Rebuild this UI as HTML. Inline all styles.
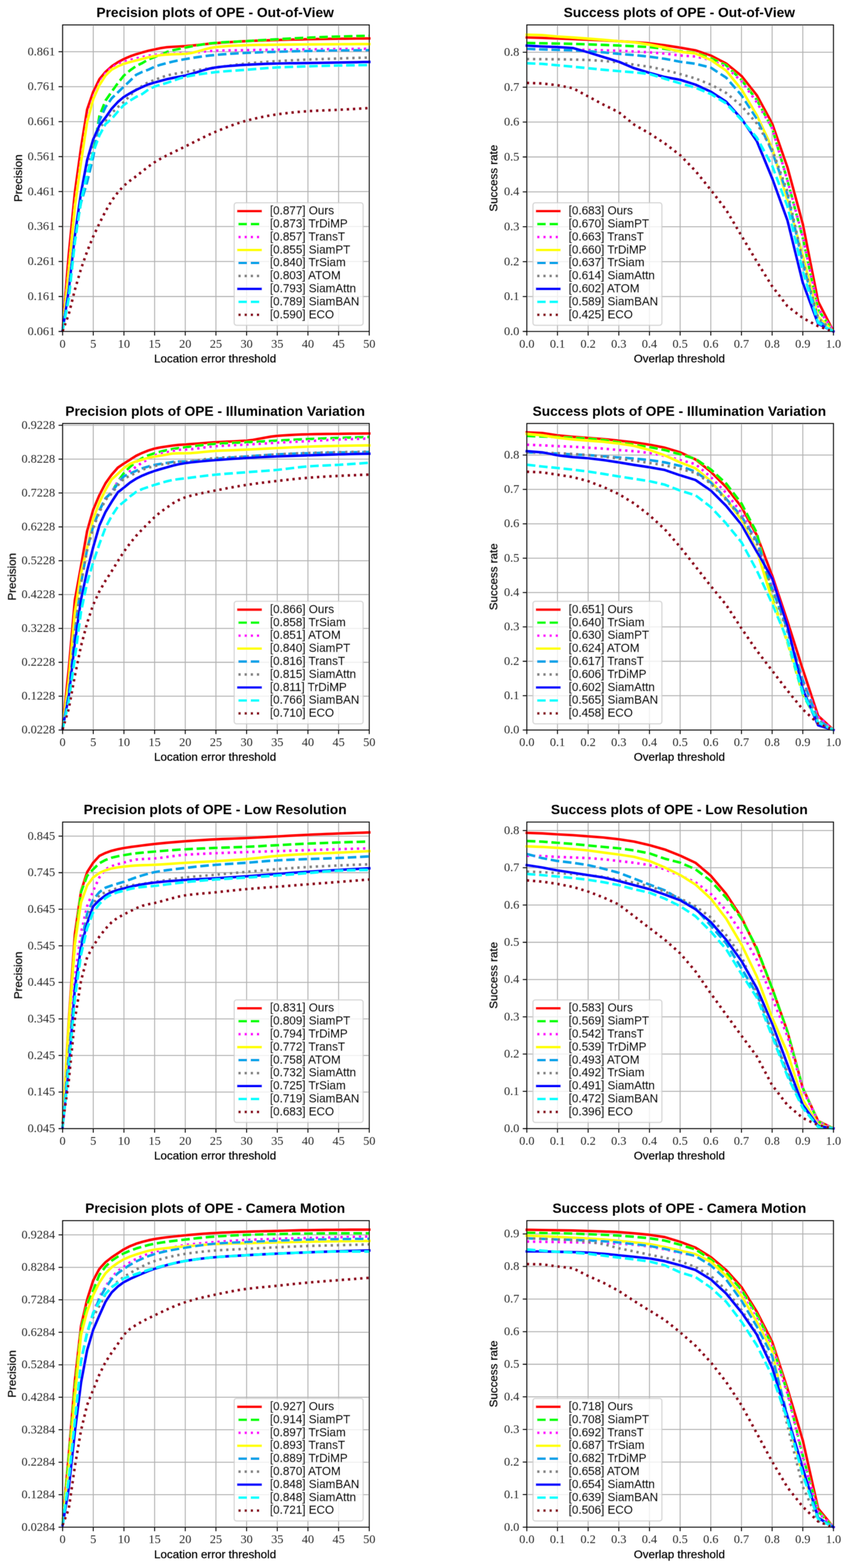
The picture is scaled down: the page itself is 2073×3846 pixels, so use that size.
<!DOCTYPE html>
<html><head><meta charset="utf-8"><title>OPE plots</title>
<style>html,body{margin:0;padding:0;background:#fff;}svg{display:block;}</style>
</head><body>
<svg width="2073" height="3846" viewBox="0 0 2073 3846"><defs><filter id="bl" x="-2%" y="-2%" width="104%" height="104%"><feConvolveMatrix order="3" kernelMatrix="1 2 1 2 4 2 1 2 1" divisor="16" edgeMode="none"/></filter></defs><rect width="100%" height="100%" fill="#fff"/><g filter="url(#bl)">
<path d="M153.6 61.1V813M228.83 61.1V813M304.06 61.1V813M379.29 61.1V813M454.52 61.1V813M529.75 61.1V813M604.98 61.1V813M680.21 61.1V813M755.44 61.1V813M830.67 61.1V813M905.9 61.1V813M153.6 813H905.9M153.6 727.24H905.9M153.6 641.48H905.9M153.6 555.72H905.9M153.6 469.96H905.9M153.6 384.2H905.9M153.6 298.44H905.9M153.6 212.68H905.9M153.6 126.92H905.9" stroke="#b0b0b0" stroke-width="2.28" fill="none"/>
<path d="M153.6,808.71 168.65,624.33 183.69,471.68 198.74,362.5 213.78,268.51 228.83,224.86 243.88,194.33 258.92,176.23 273.97,162.68 289.01,152.73 304.06,144.67 319.11,138.24 334.15,132.92 349.2,128.46 364.24,124.6 379.29,121.17 394.34,118 409.38,115.77 424.43,114.74 439.47,114.06 454.52,113.2 469.57,111.91 484.61,110.37 499.66,108.74 514.7,107.2 529.75,105.82 544.8,104.62 559.84,103.59 574.89,102.56 589.93,101.62 604.98,100.85 620.03,100.16 635.07,99.56 650.12,99.05 665.16,98.53 680.21,98.1 695.26,97.68 710.3,97.25 725.35,96.9 740.39,96.56 755.44,96.22 770.49,95.96 785.53,95.7 800.58,95.45 815.62,95.19 830.67,95.02 845.72,94.85 860.76,94.67 875.81,94.5 890.85,94.33 905.9,94.25" fill="none" stroke="#ff0000" stroke-width="6.2" stroke-linejoin="round" stroke-linecap="square"/>
<path d="M153.6,809.57 168.65,710.95 183.69,576.3 198.74,494.66 213.78,441.23 228.83,374.34 243.88,284.55 258.92,246.64 273.97,224.94 289.01,204.19 304.06,185.24 319.11,172.63 334.15,161.82 349.2,154.62 364.24,145.53 379.29,140.13 394.34,133.52 409.38,127.52 424.43,123.23 439.47,119.72 454.52,116.63 469.57,113.8 484.61,111.05 499.66,108.65 514.7,106.59 529.75,105.05 544.8,103.94 559.84,103.08 574.89,102.39 589.93,101.62 604.98,100.85 620.03,99.91 635.07,98.96 650.12,98.02 665.16,97.08 680.21,96.22 695.26,95.36 710.3,94.59 725.35,93.73 740.39,93.04 755.44,92.36 770.49,91.76 785.53,91.16 800.58,90.64 815.62,90.13 830.67,89.7 845.72,89.27 860.76,88.84 875.81,88.41 890.85,88.07 905.9,87.73" fill="none" stroke="#00ff00" stroke-width="6.2" stroke-linejoin="round" stroke-dasharray="21.09 9.12" stroke-linecap="butt"/>
<path d="M153.6,805.28 168.65,660.6 183.69,502.55 198.74,393.2 213.78,294.32 228.83,237.81 243.88,203.59 258.92,180.09 273.97,165.68 289.01,157.54 304.06,151.28 319.11,146.82 334.15,143.21 349.2,139.87 364.24,136.87 379.29,134.64 394.34,133.09 409.38,132.07 424.43,131.47 439.47,130.95 454.52,130.35 469.57,129.32 484.61,127.86 499.66,126.41 514.7,125.12 529.75,124.35 544.8,124 559.84,123.66 574.89,123.49 589.93,123.32 604.98,123.06 620.03,122.8 635.07,122.55 650.12,122.37 665.16,122.12 680.21,121.95 695.26,121.77 710.3,121.6 725.35,121.43 740.39,121.35 755.44,121.17 770.49,121 785.53,120.83 800.58,120.75 815.62,120.57 830.67,120.4 845.72,120.23 860.76,120.06 875.81,119.97 890.85,119.8 905.9,119.63" fill="none" stroke="#ff00ff" stroke-width="6.2" stroke-linejoin="round" stroke-dasharray="5.7 9.4" stroke-linecap="butt"/>
<path d="M153.6,810.43 168.65,665.75 183.69,507.69 198.74,398.35 213.78,299.47 228.83,242.95 243.88,208.74 258.92,185.24 273.97,170.83 289.01,162.68 304.06,156.42 319.11,152.05 334.15,148.27 349.2,144.24 364.24,140.47 379.29,137.47 394.34,135.24 409.38,133.78 424.43,133.18 439.47,132.75 454.52,132.07 469.57,130.01 484.61,126.23 499.66,121.86 514.7,117.92 529.75,115.43 544.8,114.06 559.84,112.94 574.89,112 589.93,111.31 604.98,110.8 620.03,110.45 635.07,110.2 650.12,110.03 665.16,109.85 680.21,109.68 695.26,109.51 710.3,109.34 725.35,109.17 740.39,109 755.44,108.91 770.49,108.82 785.53,108.74 800.58,108.65 815.62,108.57 830.67,108.48 845.72,108.4 860.76,108.31 875.81,108.22 890.85,108.22 905.9,108.14" fill="none" stroke="#ffff00" stroke-width="6.2" stroke-linejoin="round" stroke-linecap="square"/>
<path d="M153.6,809.57 168.65,710.95 183.69,576.22 198.74,496.97 213.78,446.46 228.83,384.8 243.88,295.35 258.92,262.85 273.97,241.24 289.01,226.74 304.06,212.34 319.11,197.93 334.15,183.44 349.2,176.23 364.24,170.83 379.29,163.63 394.34,158.65 409.38,154.62 424.43,150.93 439.47,147.76 454.52,144.93 469.57,142.44 484.61,140.13 499.66,137.98 514.7,136.18 529.75,134.64 544.8,133.35 559.84,132.24 574.89,131.29 589.93,130.44 604.98,129.66 620.03,128.98 635.07,128.38 650.12,127.86 665.16,127.35 680.21,126.92 695.26,126.49 710.3,126.06 725.35,125.72 740.39,125.38 755.44,125.03 770.49,124.78 785.53,124.52 800.58,124.26 815.62,124 830.67,123.83 845.72,123.66 860.76,123.49 875.81,123.32 890.85,123.15 905.9,123.06" fill="none" stroke="#00a2e8" stroke-width="6.2" stroke-linejoin="round" stroke-dasharray="21.09 9.12" stroke-linecap="butt"/>
<path d="M153.6,810.43 168.65,732.47 183.69,594.05 198.74,490.8 213.78,411.13 228.83,346.29 243.88,313.88 258.92,296.3 273.97,277.34 289.01,262.85 304.06,250.24 319.11,234.21 334.15,219.54 349.2,210.54 364.24,201.53 379.29,196.13 394.34,190.3 409.38,185.24 424.43,181.89 439.47,179.15 454.52,176.66 469.57,174.17 484.61,171.86 499.66,169.63 514.7,167.4 529.75,165.34 544.8,163.28 559.84,161.14 574.89,159.17 589.93,157.36 604.98,155.74 620.03,154.36 635.07,153.16 650.12,151.96 665.16,150.93 680.21,149.99 695.26,149.13 710.3,148.27 725.35,147.5 740.39,146.82 755.44,146.13 770.49,145.53 785.53,145.02 800.58,144.5 815.62,143.99 830.67,143.47 845.72,142.96 860.76,142.53 875.81,142.01 890.85,141.58 905.9,141.16" fill="none" stroke="#808080" stroke-width="6.2" stroke-linejoin="round" stroke-dasharray="5.7 9.4" stroke-linecap="butt"/>
<path d="M153.6,809.57 168.65,710.95 183.69,576.73 198.74,473.13 213.78,392.69 228.83,341.49 243.88,307.7 258.92,288.15 273.97,266.54 289.01,250.24 304.06,237.64 319.11,228.63 334.15,220.48 349.2,213.28 364.24,206.93 379.29,202.39 394.34,198.19 409.38,194.33 424.43,191.15 439.47,188.32 454.52,185.24 469.57,181.29 484.61,176.75 499.66,172.12 514.7,168.08 529.75,165.34 544.8,163.54 559.84,162 574.89,160.8 589.93,159.68 604.98,158.82 620.03,158.05 635.07,157.28 650.12,156.68 665.16,156.16 680.21,155.74 695.26,155.48 710.3,155.22 725.35,155.05 740.39,154.79 755.44,154.62 770.49,154.36 785.53,154.19 800.58,153.93 815.62,153.68 830.67,153.42 845.72,153.16 860.76,152.82 875.81,152.56 890.85,152.22 905.9,151.88" fill="none" stroke="#0000ff" stroke-width="6.2" stroke-linejoin="round" stroke-linecap="square"/>
<path d="M153.6,810.43 168.65,732.47 183.69,594.05 198.74,493.46 213.78,427.59 228.83,372.88 243.88,332.23 258.92,304.1 273.97,291.75 289.01,273.74 304.06,257.45 319.11,246.64 334.15,237.64 349.2,230.43 364.24,219.54 379.29,212.34 394.34,207.53 409.38,203.33 424.43,198.19 439.47,192.87 454.52,188.67 469.57,185.58 484.61,182.92 499.66,180.61 514.7,178.63 529.75,176.92 544.8,175.46 559.84,174.26 574.89,173.23 589.93,172.2 604.98,171.09 620.03,169.89 635.07,168.6 650.12,167.31 665.16,166.2 680.21,165.34 695.26,164.65 710.3,164.14 725.35,163.63 740.39,163.11 755.44,162.68 770.49,162.25 785.53,161.82 800.58,161.4 815.62,161.05 830.67,160.71 845.72,160.45 860.76,160.19 875.81,159.94 890.85,159.77 905.9,159.59" fill="none" stroke="#00ffff" stroke-width="6.2" stroke-linejoin="round" stroke-dasharray="21.09 9.12" stroke-linecap="butt"/>
<path d="M153.6,812.14 168.65,770.98 183.69,710.95 198.74,659.49 213.78,616.61 228.83,579.73 243.88,548 258.92,517.99 273.97,492.26 289.01,471.93 304.06,455.38 319.11,443.12 334.15,432.23 349.2,420.3 364.24,408.38 379.29,397.92 394.34,389.09 409.38,381.2 424.43,373.82 439.47,366.62 454.52,359.33 469.57,351.7 484.61,344.06 499.66,336.6 514.7,329.49 529.75,322.88 544.8,316.71 559.84,310.79 574.89,305.22 589.93,300.24 604.98,295.87 620.03,292.09 635.07,288.58 650.12,285.49 665.16,282.75 680.21,280.43 695.26,278.46 710.3,276.66 725.35,275.11 740.39,273.83 755.44,272.71 770.49,271.85 785.53,271.17 800.58,270.57 815.62,269.97 830.67,269.28 845.72,268.51 860.76,267.65 875.81,266.79 890.85,265.94 905.9,264.99" fill="none" stroke="#880015" stroke-width="6.2" stroke-linejoin="round" stroke-dasharray="5.7 9.4" stroke-linecap="butt"/>
<rect x="153.6" y="61.1" width="752.3" height="751.9" fill="none" stroke="#000" stroke-width="2.28"/>
<path d="M153.6 813v9.97M228.83 813v9.97M304.06 813v9.97M379.29 813v9.97M454.52 813v9.97M529.75 813v9.97M604.98 813v9.97M680.21 813v9.97M755.44 813v9.97M830.67 813v9.97M905.9 813v9.97M153.6 813h-9.97M153.6 727.24h-9.97M153.6 641.48h-9.97M153.6 555.72h-9.97M153.6 469.96h-9.97M153.6 384.2h-9.97M153.6 298.44h-9.97M153.6 212.68h-9.97M153.6 126.92h-9.97" stroke="#000" stroke-width="2.28" fill="none"/>
<g font-family="'Liberation Serif', 'Times New Roman', serif" font-size="30" fill="#2a2a2a">
<text x="153.6" y="852.5" text-anchor="middle">0</text>
<text x="228.83" y="852.5" text-anchor="middle">5</text>
<text x="304.06" y="852.5" text-anchor="middle">10</text>
<text x="379.29" y="852.5" text-anchor="middle">15</text>
<text x="454.52" y="852.5" text-anchor="middle">20</text>
<text x="529.75" y="852.5" text-anchor="middle">25</text>
<text x="604.98" y="852.5" text-anchor="middle">30</text>
<text x="680.21" y="852.5" text-anchor="middle">35</text>
<text x="755.44" y="852.5" text-anchor="middle">40</text>
<text x="830.67" y="852.5" text-anchor="middle">45</text>
<text x="905.9" y="852.5" text-anchor="middle">50</text>
<text x="135.3" y="821.7" text-anchor="end">0.061</text>
<text x="135.3" y="735.94" text-anchor="end">0.161</text>
<text x="135.3" y="650.18" text-anchor="end">0.261</text>
<text x="135.3" y="564.42" text-anchor="end">0.361</text>
<text x="135.3" y="478.66" text-anchor="end">0.461</text>
<text x="135.3" y="392.9" text-anchor="end">0.561</text>
<text x="135.3" y="307.14" text-anchor="end">0.661</text>
<text x="135.3" y="221.38" text-anchor="end">0.761</text>
<text x="135.3" y="135.62" text-anchor="end">0.861</text>
</g>
<g font-family="'Liberation Sans', Arial, Helvetica, sans-serif" font-size="28.35" fill="#000" stroke="#000" stroke-width="0.45">
<text x="527.75" y="888.8" text-anchor="middle">Location error threshold</text>
<text transform="translate(54.1 437.05) rotate(-90)" text-anchor="middle">Precision</text>
</g>
<text x="527.75" y="42.1" text-anchor="middle" font-family="'Liberation Sans', Arial, Helvetica, sans-serif" font-size="33.75" font-weight="bold">Precision plots of OPE - Out-of-View</text>
<rect x="574.53" y="497.3" width="316.27" height="300.5" rx="5.7" fill="#fff" fill-opacity="0.8" stroke="#ccc" stroke-opacity="0.8" stroke-width="2.85"/>
<path d="M584.83 517.8H639.33" fill="none" stroke="#ff0000" stroke-width="6.2" stroke-linecap="square"/>
<text x="662.13" y="526.1" font-family="'Liberation Sans', Arial, Helvetica, sans-serif" font-size="28.6" stroke="#000" stroke-width="0.45">[0.877] Ours</text>
<path d="M584.83 549.6H639.33" fill="none" stroke="#00ff00" stroke-width="6.2" stroke-dasharray="21.09 9.12" stroke-linecap="butt"/>
<text x="662.13" y="557.9" font-family="'Liberation Sans', Arial, Helvetica, sans-serif" font-size="28.6" stroke="#000" stroke-width="0.45">[0.873] TrDiMP</text>
<path d="M584.83 581.4H639.33" fill="none" stroke="#ff00ff" stroke-width="6.2" stroke-dasharray="5.7 9.4" stroke-linecap="butt"/>
<text x="662.13" y="589.7" font-family="'Liberation Sans', Arial, Helvetica, sans-serif" font-size="28.6" stroke="#000" stroke-width="0.45">[0.857] TransT</text>
<path d="M584.83 613.2H639.33" fill="none" stroke="#ffff00" stroke-width="6.2" stroke-linecap="square"/>
<text x="662.13" y="621.5" font-family="'Liberation Sans', Arial, Helvetica, sans-serif" font-size="28.6" stroke="#000" stroke-width="0.45">[0.855] SiamPT</text>
<path d="M584.83 645H639.33" fill="none" stroke="#00a2e8" stroke-width="6.2" stroke-dasharray="21.09 9.12" stroke-linecap="butt"/>
<text x="662.13" y="653.3" font-family="'Liberation Sans', Arial, Helvetica, sans-serif" font-size="28.6" stroke="#000" stroke-width="0.45">[0.840] TrSiam</text>
<path d="M584.83 676.8H639.33" fill="none" stroke="#808080" stroke-width="6.2" stroke-dasharray="5.7 9.4" stroke-linecap="butt"/>
<text x="662.13" y="685.1" font-family="'Liberation Sans', Arial, Helvetica, sans-serif" font-size="28.6" stroke="#000" stroke-width="0.45">[0.803] ATOM</text>
<path d="M584.83 708.6H639.33" fill="none" stroke="#0000ff" stroke-width="6.2" stroke-linecap="square"/>
<text x="662.13" y="716.9" font-family="'Liberation Sans', Arial, Helvetica, sans-serif" font-size="28.6" stroke="#000" stroke-width="0.45">[0.793] SiamAttn</text>
<path d="M584.83 740.4H639.33" fill="none" stroke="#00ffff" stroke-width="6.2" stroke-dasharray="21.09 9.12" stroke-linecap="butt"/>
<text x="662.13" y="748.7" font-family="'Liberation Sans', Arial, Helvetica, sans-serif" font-size="28.6" stroke="#000" stroke-width="0.45">[0.789] SiamBAN</text>
<path d="M584.83 772.2H639.33" fill="none" stroke="#880015" stroke-width="6.2" stroke-dasharray="5.7 9.4" stroke-linecap="butt"/>
<text x="662.13" y="780.5" font-family="'Liberation Sans', Arial, Helvetica, sans-serif" font-size="28.6" stroke="#000" stroke-width="0.45">[0.590] ECO</text>
</g>
<g filter="url(#bl)">
<path d="M1292.4 61.1V813M1367.63 61.1V813M1442.86 61.1V813M1518.09 61.1V813M1593.32 61.1V813M1668.55 61.1V813M1743.78 61.1V813M1819.01 61.1V813M1894.24 61.1V813M1969.47 61.1V813M2044.7 61.1V813M1292.4 813H2044.7M1292.4 727.4H2044.7M1292.4 641.8H2044.7M1292.4 556.2H2044.7M1292.4 470.6H2044.7M1292.4 385H2044.7M1292.4 299.4H2044.7M1292.4 213.8H2044.7M1292.4 128.2H2044.7" stroke="#b0b0b0" stroke-width="2.28" fill="none"/>
<path d="M1292.4,91.82 1330.02,92.93 1367.63,94.39 1405.25,95.84 1442.86,97.3 1480.48,99.01 1518.09,100.98 1555.7,103.29 1593.32,106.2 1630.93,111.08 1668.55,116.9 1706.16,123.49 1743.78,136.16 1781.39,155.76 1819.01,186.07 1856.62,233.57 1894.24,302.74 1931.86,410.68 1969.47,549.35 2007.09,739.56 2044.7,813" fill="none" stroke="#ff0000" stroke-width="6.2" stroke-linejoin="round" stroke-linecap="square"/>
<path d="M1292.4,105.34 1330.02,106.2 1367.63,106.8 1405.25,107.66 1442.86,108.77 1480.48,110.22 1518.09,111.68 1555.7,113.39 1593.32,115.45 1630.93,119.73 1668.55,125.55 1706.16,129.83 1743.78,142.84 1781.39,160.13 1819.01,196.08 1856.62,245.13 1894.24,314.29 1931.86,442.69 1969.47,583.93 2007.09,759.76 2044.7,813" fill="none" stroke="#00ff00" stroke-width="6.2" stroke-linejoin="round" stroke-dasharray="21.09 9.12" stroke-linecap="butt"/>
<path d="M1292.4,120.32 1330.02,120.92 1367.63,121.44 1405.25,121.78 1442.86,122.64 1480.48,123.49 1518.09,124.6 1555.7,126.4 1593.32,128.37 1630.93,131.28 1668.55,136.16 1706.16,138.47 1743.78,147.12 1781.39,164.41 1819.01,198.99 1856.62,250.86 1894.24,314.29 1931.86,442.69 1969.47,581.11 2007.09,756.85 2044.7,813" fill="none" stroke="#ff00ff" stroke-width="6.2" stroke-linejoin="round" stroke-dasharray="5.7 9.4" stroke-linecap="butt"/>
<path d="M1292.4,85.14 1330.02,86 1367.63,89.51 1405.25,91.82 1442.86,94.64 1480.48,97.56 1518.09,100.98 1555.7,103.89 1593.32,109.62 1630.93,116.9 1668.55,126.92 1706.16,131.28 1743.78,147.12 1781.39,173.05 1819.01,219.19 1856.62,282.62 1894.24,363.26 1931.86,491.74 1969.47,627.16 2007.09,777.05 2044.7,813" fill="none" stroke="#ffff00" stroke-width="6.2" stroke-linejoin="round" stroke-linecap="square"/>
<path d="M1292.4,119.73 1330.02,121.18 1367.63,122.38 1405.25,123.49 1442.86,125.55 1480.48,128.37 1518.09,132.14 1555.7,135.05 1593.32,139.07 1630.93,144.21 1668.55,151.48 1706.16,156.45 1743.78,165.86 1781.39,190.35 1819.01,233.57 1856.62,291.27 1894.24,371.9 1931.86,477.28 1969.47,644.45 2007.09,785.69 2044.7,813" fill="none" stroke="#00a2e8" stroke-width="6.2" stroke-linejoin="round" stroke-dasharray="21.09 9.12" stroke-linecap="butt"/>
<path d="M1292.4,144.81 1330.02,145.15 1367.63,145.41 1405.25,146 1442.86,147.12 1480.48,149.43 1518.09,152.85 1555.7,158.67 1593.32,163.81 1630.93,171.6 1668.55,181.7 1706.16,192.4 1743.78,207.47 1781.39,227.84 1819.01,259.51 1856.62,302.74 1894.24,366.17 1931.86,470.09 1969.47,638.72 2007.09,779.96 2044.7,813" fill="none" stroke="#808080" stroke-width="6.2" stroke-linejoin="round" stroke-dasharray="5.7 9.4" stroke-linecap="butt"/>
<path d="M1292.4,111.94 1330.02,113.99 1367.63,115.45 1405.25,117.76 1442.86,128.37 1480.48,139.93 1518.09,151.48 1555.7,167.32 1593.32,178.79 1630.93,188.89 1668.55,195.82 1706.16,207.64 1743.78,224.93 1781.39,249.41 1819.01,291.27 1856.62,345.97 1894.24,436.96 1931.86,540.71 1969.47,693.5 2007.09,794.34 2044.7,813" fill="none" stroke="#0000ff" stroke-width="6.2" stroke-linejoin="round" stroke-linecap="square"/>
<path d="M1292.4,155.16 1330.02,156.62 1367.63,160.13 1405.25,163.55 1442.86,167.32 1480.48,171.09 1518.09,174.51 1555.7,177.42 1593.32,181.7 1630.93,193.26 1668.55,204.38 1706.16,215.08 1743.78,230.75 1781.39,253.78 1819.01,294.09 1856.62,337.32 1894.24,406.49 1931.86,506.12 1969.47,664.66 2007.09,791.43 2044.7,813" fill="none" stroke="#00ffff" stroke-width="6.2" stroke-linejoin="round" stroke-dasharray="21.09 9.12" stroke-linecap="butt"/>
<path d="M1292.4,203.36 1330.02,204.73 1367.63,209.09 1405.25,216.28 1442.86,236.48 1480.48,256.69 1518.09,275.35 1555.7,305.65 1593.32,327.22 1630.93,351.79 1668.55,380.55 1706.16,419.24 1743.78,465.81 1781.39,514.77 1819.01,578.2 1856.62,641.63 1894.24,702.15 1931.86,751.11 1969.47,779.96 2007.09,800.07 2044.7,813" fill="none" stroke="#880015" stroke-width="6.2" stroke-linejoin="round" stroke-dasharray="5.7 9.4" stroke-linecap="butt"/>
<rect x="1292.4" y="61.1" width="752.3" height="751.9" fill="none" stroke="#000" stroke-width="2.28"/>
<path d="M1292.4 813v9.97M1367.63 813v9.97M1442.86 813v9.97M1518.09 813v9.97M1593.32 813v9.97M1668.55 813v9.97M1743.78 813v9.97M1819.01 813v9.97M1894.24 813v9.97M1969.47 813v9.97M2044.7 813v9.97M1292.4 813h-9.97M1292.4 727.4h-9.97M1292.4 641.8h-9.97M1292.4 556.2h-9.97M1292.4 470.6h-9.97M1292.4 385h-9.97M1292.4 299.4h-9.97M1292.4 213.8h-9.97M1292.4 128.2h-9.97" stroke="#000" stroke-width="2.28" fill="none"/>
<g font-family="'Liberation Serif', 'Times New Roman', serif" font-size="30" fill="#2a2a2a">
<text x="1292.4" y="852.5" text-anchor="middle">0.0</text>
<text x="1367.63" y="852.5" text-anchor="middle">0.1</text>
<text x="1442.86" y="852.5" text-anchor="middle">0.2</text>
<text x="1518.09" y="852.5" text-anchor="middle">0.3</text>
<text x="1593.32" y="852.5" text-anchor="middle">0.4</text>
<text x="1668.55" y="852.5" text-anchor="middle">0.5</text>
<text x="1743.78" y="852.5" text-anchor="middle">0.6</text>
<text x="1819.01" y="852.5" text-anchor="middle">0.7</text>
<text x="1894.24" y="852.5" text-anchor="middle">0.8</text>
<text x="1969.47" y="852.5" text-anchor="middle">0.9</text>
<text x="2044.7" y="852.5" text-anchor="middle">1.0</text>
<text x="1274.1" y="821.7" text-anchor="end">0.0</text>
<text x="1274.1" y="736.1" text-anchor="end">0.1</text>
<text x="1274.1" y="650.5" text-anchor="end">0.2</text>
<text x="1274.1" y="564.9" text-anchor="end">0.3</text>
<text x="1274.1" y="479.3" text-anchor="end">0.4</text>
<text x="1274.1" y="393.7" text-anchor="end">0.5</text>
<text x="1274.1" y="308.1" text-anchor="end">0.6</text>
<text x="1274.1" y="222.5" text-anchor="end">0.7</text>
<text x="1274.1" y="136.9" text-anchor="end">0.8</text>
</g>
<g font-family="'Liberation Sans', Arial, Helvetica, sans-serif" font-size="28.35" fill="#000" stroke="#000" stroke-width="0.45">
<text x="1666.55" y="888.8" text-anchor="middle">Overlap threshold</text>
<text transform="translate(1220.1 437.05) rotate(-90)" text-anchor="middle">Success rate</text>
</g>
<text x="1666.55" y="42.1" text-anchor="middle" font-family="'Liberation Sans', Arial, Helvetica, sans-serif" font-size="33.75" font-weight="bold">Success plots of OPE - Out-of-View</text>
<rect x="1307.5" y="497.3" width="316.27" height="300.5" rx="5.7" fill="#fff" fill-opacity="0.8" stroke="#ccc" stroke-opacity="0.8" stroke-width="2.85"/>
<path d="M1317.8 517.8H1372.3" fill="none" stroke="#ff0000" stroke-width="6.2" stroke-linecap="square"/>
<text x="1395.1" y="526.1" font-family="'Liberation Sans', Arial, Helvetica, sans-serif" font-size="28.6" stroke="#000" stroke-width="0.45">[0.683] Ours</text>
<path d="M1317.8 549.6H1372.3" fill="none" stroke="#00ff00" stroke-width="6.2" stroke-dasharray="21.09 9.12" stroke-linecap="butt"/>
<text x="1395.1" y="557.9" font-family="'Liberation Sans', Arial, Helvetica, sans-serif" font-size="28.6" stroke="#000" stroke-width="0.45">[0.670] SiamPT</text>
<path d="M1317.8 581.4H1372.3" fill="none" stroke="#ff00ff" stroke-width="6.2" stroke-dasharray="5.7 9.4" stroke-linecap="butt"/>
<text x="1395.1" y="589.7" font-family="'Liberation Sans', Arial, Helvetica, sans-serif" font-size="28.6" stroke="#000" stroke-width="0.45">[0.663] TransT</text>
<path d="M1317.8 613.2H1372.3" fill="none" stroke="#ffff00" stroke-width="6.2" stroke-linecap="square"/>
<text x="1395.1" y="621.5" font-family="'Liberation Sans', Arial, Helvetica, sans-serif" font-size="28.6" stroke="#000" stroke-width="0.45">[0.660] TrDiMP</text>
<path d="M1317.8 645H1372.3" fill="none" stroke="#00a2e8" stroke-width="6.2" stroke-dasharray="21.09 9.12" stroke-linecap="butt"/>
<text x="1395.1" y="653.3" font-family="'Liberation Sans', Arial, Helvetica, sans-serif" font-size="28.6" stroke="#000" stroke-width="0.45">[0.637] TrSiam</text>
<path d="M1317.8 676.8H1372.3" fill="none" stroke="#808080" stroke-width="6.2" stroke-dasharray="5.7 9.4" stroke-linecap="butt"/>
<text x="1395.1" y="685.1" font-family="'Liberation Sans', Arial, Helvetica, sans-serif" font-size="28.6" stroke="#000" stroke-width="0.45">[0.614] SiamAttn</text>
<path d="M1317.8 708.6H1372.3" fill="none" stroke="#0000ff" stroke-width="6.2" stroke-linecap="square"/>
<text x="1395.1" y="716.9" font-family="'Liberation Sans', Arial, Helvetica, sans-serif" font-size="28.6" stroke="#000" stroke-width="0.45">[0.602] ATOM</text>
<path d="M1317.8 740.4H1372.3" fill="none" stroke="#00ffff" stroke-width="6.2" stroke-dasharray="21.09 9.12" stroke-linecap="butt"/>
<text x="1395.1" y="748.7" font-family="'Liberation Sans', Arial, Helvetica, sans-serif" font-size="28.6" stroke="#000" stroke-width="0.45">[0.589] SiamBAN</text>
<path d="M1317.8 772.2H1372.3" fill="none" stroke="#880015" stroke-width="6.2" stroke-dasharray="5.7 9.4" stroke-linecap="butt"/>
<text x="1395.1" y="780.5" font-family="'Liberation Sans', Arial, Helvetica, sans-serif" font-size="28.6" stroke="#000" stroke-width="0.45">[0.425] ECO</text>
</g>
<g filter="url(#bl)">
<path d="M153.6 1038.73V1790.63M228.83 1038.73V1790.63M304.06 1038.73V1790.63M379.29 1038.73V1790.63M454.52 1038.73V1790.63M529.75 1038.73V1790.63M604.98 1038.73V1790.63M680.21 1038.73V1790.63M755.44 1038.73V1790.63M830.67 1038.73V1790.63M905.9 1038.73V1790.63M153.6 1790.63H905.9M153.6 1707.57H905.9M153.6 1624.51H905.9M153.6 1541.45H905.9M153.6 1458.39H905.9M153.6 1375.33H905.9M153.6 1292.27H905.9M153.6 1209.21H905.9M153.6 1126.15H905.9M153.6 1043.09H905.9" stroke="#b0b0b0" stroke-width="2.28" fill="none"/>
<path d="M153.6,1784.65 168.65,1641.12 183.69,1471.6 198.74,1388.2 213.78,1302.32 228.83,1249.74 243.88,1214.44 258.92,1185.37 273.97,1164.19 289.01,1147.08 304.06,1136.86 319.11,1127.48 334.15,1117.84 349.2,1110.78 364.24,1104.89 379.29,1100.24 394.34,1097.25 409.38,1095 424.43,1092.76 439.47,1091.18 454.52,1090.27 469.57,1089.19 484.61,1088.03 499.66,1086.78 514.7,1085.62 529.75,1084.62 544.8,1083.79 559.84,1083.12 574.89,1082.54 589.93,1081.71 604.98,1080.72 620.03,1078.97 635.07,1076.4 650.12,1073.49 665.16,1070.92 680.21,1069.09 695.26,1068.01 710.3,1067.09 725.35,1066.26 740.39,1065.68 755.44,1065.27 770.49,1064.93 785.53,1064.69 800.58,1064.44 815.62,1064.27 830.67,1064.1 845.72,1063.86 860.76,1063.69 875.81,1063.52 890.85,1063.44 905.9,1063.27" fill="none" stroke="#ff0000" stroke-width="6.2" stroke-linejoin="round" stroke-linecap="square"/>
<path d="M153.6,1786.31 168.65,1700.59 183.69,1548.18 198.74,1430.65 213.78,1345.43 228.83,1290.28 243.88,1251.65 258.92,1222.33 273.97,1207.3 289.01,1181.05 304.06,1160.45 319.11,1144.84 334.15,1132.79 349.2,1123.66 364.24,1116.85 379.29,1111.78 394.34,1107.71 409.38,1104.14 424.43,1101.15 439.47,1098.91 454.52,1096.91 469.57,1095 484.61,1093.09 499.66,1091.35 514.7,1089.77 529.75,1088.52 544.8,1087.53 559.84,1086.78 574.89,1086.03 589.93,1085.37 604.98,1084.62 620.03,1083.87 635.07,1083.04 650.12,1082.29 665.16,1081.55 680.21,1080.72 695.26,1079.97 710.3,1079.14 725.35,1078.31 740.39,1077.56 755.44,1076.9 770.49,1076.23 785.53,1075.73 800.58,1075.15 815.62,1074.65 830.67,1074.15 845.72,1073.66 860.76,1073.16 875.81,1072.74 890.85,1072.24 905.9,1071.83" fill="none" stroke="#00ff00" stroke-width="6.2" stroke-linejoin="round" stroke-dasharray="21.09 9.12" stroke-linecap="butt"/>
<path d="M153.6,1786.31 168.65,1700.59 183.69,1548.18 198.74,1430.65 213.78,1345.43 228.83,1290.28 243.88,1251.65 258.92,1222.33 273.97,1207.22 289.01,1181.14 304.06,1169.51 319.11,1155.14 334.15,1144.67 349.2,1134.46 364.24,1125.65 379.29,1116.85 394.34,1112.36 409.38,1109.21 424.43,1105.88 439.47,1103.23 454.52,1102.73 469.57,1101.65 484.61,1099.82 499.66,1097.74 514.7,1095.75 529.75,1094.34 544.8,1093.34 559.84,1092.59 574.89,1091.93 589.93,1091.18 604.98,1090.43 620.03,1089.52 635.07,1088.61 650.12,1087.61 665.16,1086.7 680.21,1085.78 695.26,1084.95 710.3,1084.2 725.35,1083.46 740.39,1082.71 755.44,1081.88 770.49,1081.13 785.53,1080.3 800.58,1079.47 815.62,1078.72 830.67,1078.06 845.72,1077.48 860.76,1076.98 875.81,1076.48 890.85,1076.06 905.9,1075.73" fill="none" stroke="#ff00ff" stroke-width="6.2" stroke-linejoin="round" stroke-dasharray="5.7 9.4" stroke-linecap="butt"/>
<path d="M153.6,1784.65 168.65,1671.44 183.69,1503.57 198.74,1406.98 213.78,1343.19 228.83,1272.83 243.88,1232.05 258.92,1201.32 273.97,1175.9 289.01,1162.36 304.06,1147.91 319.11,1137.61 334.15,1131.72 349.2,1127.4 364.24,1122.91 379.29,1119.84 394.34,1117.51 409.38,1114.85 424.43,1112.28 439.47,1111.95 454.52,1111.86 469.57,1111.28 484.61,1110.04 499.66,1108.54 514.7,1107.05 529.75,1105.97 544.8,1105.22 559.84,1104.64 574.89,1104.06 589.93,1103.47 604.98,1102.89 620.03,1102.15 635.07,1101.32 650.12,1100.57 665.16,1099.74 680.21,1098.99 695.26,1098.24 710.3,1097.49 725.35,1096.75 740.39,1096.08 755.44,1095.5 770.49,1095 785.53,1094.59 800.58,1094.17 815.62,1093.84 830.67,1093.51 845.72,1093.26 860.76,1093.01 875.81,1092.76 890.85,1092.59 905.9,1092.34" fill="none" stroke="#ffff00" stroke-width="6.2" stroke-linejoin="round" stroke-linecap="square"/>
<path d="M153.6,1786.31 168.65,1700.59 183.69,1548.18 198.74,1430.65 213.78,1345.43 228.83,1290.28 243.88,1251.65 258.92,1222.33 273.97,1207.63 289.01,1186.37 304.06,1168.26 319.11,1161.53 334.15,1154.72 349.2,1148.83 364.24,1144.09 379.29,1140.35 394.34,1137.7 409.38,1135.45 424.43,1132.96 439.47,1131.88 454.52,1131.8 469.57,1131.22 484.61,1130.05 499.66,1128.48 514.7,1126.81 529.75,1125.32 544.8,1124.16 559.84,1122.91 574.89,1121.75 589.93,1120.67 604.98,1119.51 620.03,1118.43 635.07,1117.35 650.12,1116.27 665.16,1115.27 680.21,1114.52 695.26,1113.86 710.3,1113.28 725.35,1112.69 740.39,1112.2 755.44,1111.78 770.49,1111.37 785.53,1110.87 800.58,1110.53 815.62,1110.12 830.67,1109.87 845.72,1109.54 860.76,1109.29 875.81,1109.04 890.85,1108.87 905.9,1108.71" fill="none" stroke="#00a2e8" stroke-width="6.2" stroke-linejoin="round" stroke-dasharray="21.09 9.12" stroke-linecap="butt"/>
<path d="M153.6,1786.31 168.65,1700.59 183.69,1548.18 198.74,1430.65 213.78,1349.5 228.83,1294.6 243.88,1256.31 258.92,1226.07 273.97,1210.62 289.01,1190.77 304.06,1173.74 319.11,1167.02 334.15,1159.21 349.2,1152.31 364.24,1147.08 379.29,1143.01 394.34,1139.85 409.38,1137.28 424.43,1134.95 439.47,1133.46 454.52,1132.63 469.57,1131.13 484.61,1129.14 499.66,1126.9 514.7,1124.9 529.75,1123.41 544.8,1122.41 559.84,1121.66 574.89,1121 589.93,1120.34 604.98,1119.51 620.03,1118.59 635.07,1117.51 650.12,1116.43 665.16,1115.44 680.21,1114.52 695.26,1113.69 710.3,1112.94 725.35,1112.2 740.39,1111.53 755.44,1111.03 770.49,1110.53 785.53,1110.12 800.58,1109.7 815.62,1109.37 830.67,1109.04 845.72,1108.79 860.76,1108.54 875.81,1108.29 890.85,1108.04 905.9,1107.88" fill="none" stroke="#808080" stroke-width="6.2" stroke-linejoin="round" stroke-dasharray="5.7 9.4" stroke-linecap="butt"/>
<path d="M153.6,1786.31 168.65,1707.15 183.69,1575.59 198.74,1470.68 213.78,1400.16 228.83,1341.36 243.88,1288.78 258.92,1255.56 273.97,1230.81 289.01,1207.71 304.06,1195.92 319.11,1183.63 334.15,1174.08 349.2,1166.52 364.24,1160.37 379.29,1155.05 394.34,1150.49 409.38,1146.25 424.43,1142.01 439.47,1138.44 454.52,1135.95 469.57,1134.04 484.61,1132.46 499.66,1130.97 514.7,1129.72 529.75,1128.48 544.8,1127.31 559.84,1126.23 574.89,1125.24 589.93,1124.32 604.98,1123.41 620.03,1122.58 635.07,1121.75 650.12,1120.92 665.16,1120.17 680.21,1119.51 695.26,1118.92 710.3,1118.34 725.35,1117.84 740.39,1117.35 755.44,1116.85 770.49,1116.35 785.53,1115.85 800.58,1115.35 815.62,1114.85 830.67,1114.52 845.72,1114.11 860.76,1113.77 875.81,1113.44 890.85,1113.19 905.9,1112.94" fill="none" stroke="#0000ff" stroke-width="6.2" stroke-linejoin="round" stroke-linecap="square"/>
<path d="M153.6,1787.97 168.65,1720.11 183.69,1614.21 198.74,1500.75 213.78,1429.4 228.83,1378.74 243.88,1334.22 258.92,1293.93 273.97,1265.61 289.01,1242.93 304.06,1230.64 319.11,1217.6 334.15,1206.55 349.2,1199.41 364.24,1194.26 379.29,1189.28 394.34,1184.71 409.38,1180.47 424.43,1176.98 439.47,1174.99 454.52,1173.33 469.57,1171.42 484.61,1169.42 499.66,1167.51 514.7,1165.69 529.75,1164.11 544.8,1162.78 559.84,1161.62 574.89,1160.54 589.93,1159.46 604.98,1158.29 620.03,1157.21 635.07,1156.13 650.12,1154.97 665.16,1153.81 680.21,1152.48 695.26,1150.9 710.3,1148.99 725.35,1147.08 740.39,1145.34 755.44,1144.01 770.49,1143.01 785.53,1142.26 800.58,1141.6 815.62,1140.85 830.67,1140.1 845.72,1139.19 860.76,1138.19 875.81,1137.2 890.85,1136.12 905.9,1135.04" fill="none" stroke="#00ffff" stroke-width="6.2" stroke-linejoin="round" stroke-dasharray="21.09 9.12" stroke-linecap="butt"/>
<path d="M153.6,1788.8 168.65,1738.55 183.69,1657.24 198.74,1584.56 213.78,1527.83 228.83,1482.64 243.88,1450.42 258.92,1424.09 273.97,1401.16 289.01,1376.58 304.06,1352.9 319.11,1332.39 334.15,1314.2 349.2,1298 364.24,1282.97 379.29,1268.35 394.34,1255.47 409.38,1245.09 424.43,1234.38 439.47,1226.07 454.52,1219.84 469.57,1215.44 484.61,1211.87 499.66,1208.71 514.7,1205.8 529.75,1202.9 544.8,1199.99 559.84,1197.08 574.89,1194.34 589.93,1191.77 604.98,1189.36 620.03,1187.2 635.07,1185.12 650.12,1183.21 665.16,1181.38 680.21,1179.64 695.26,1177.9 710.3,1176.24 725.35,1174.66 740.39,1173.16 755.44,1171.92 770.49,1170.75 785.53,1169.76 800.58,1168.84 815.62,1168.01 830.67,1167.26 845.72,1166.52 860.76,1165.85 875.81,1165.19 890.85,1164.61 905.9,1164.11" fill="none" stroke="#880015" stroke-width="6.2" stroke-linejoin="round" stroke-dasharray="5.7 9.4" stroke-linecap="butt"/>
<rect x="153.6" y="1038.73" width="752.3" height="751.9" fill="none" stroke="#000" stroke-width="2.28"/>
<path d="M153.6 1790.63v9.97M228.83 1790.63v9.97M304.06 1790.63v9.97M379.29 1790.63v9.97M454.52 1790.63v9.97M529.75 1790.63v9.97M604.98 1790.63v9.97M680.21 1790.63v9.97M755.44 1790.63v9.97M830.67 1790.63v9.97M905.9 1790.63v9.97M153.6 1790.63h-9.97M153.6 1707.57h-9.97M153.6 1624.51h-9.97M153.6 1541.45h-9.97M153.6 1458.39h-9.97M153.6 1375.33h-9.97M153.6 1292.27h-9.97M153.6 1209.21h-9.97M153.6 1126.15h-9.97M153.6 1043.09h-9.97" stroke="#000" stroke-width="2.28" fill="none"/>
<g font-family="'Liberation Serif', 'Times New Roman', serif" font-size="30" fill="#2a2a2a">
<text x="153.6" y="1830.13" text-anchor="middle">0</text>
<text x="228.83" y="1830.13" text-anchor="middle">5</text>
<text x="304.06" y="1830.13" text-anchor="middle">10</text>
<text x="379.29" y="1830.13" text-anchor="middle">15</text>
<text x="454.52" y="1830.13" text-anchor="middle">20</text>
<text x="529.75" y="1830.13" text-anchor="middle">25</text>
<text x="604.98" y="1830.13" text-anchor="middle">30</text>
<text x="680.21" y="1830.13" text-anchor="middle">35</text>
<text x="755.44" y="1830.13" text-anchor="middle">40</text>
<text x="830.67" y="1830.13" text-anchor="middle">45</text>
<text x="905.9" y="1830.13" text-anchor="middle">50</text>
<text x="135.3" y="1799.33" text-anchor="end">0.0228</text>
<text x="135.3" y="1716.27" text-anchor="end">0.1228</text>
<text x="135.3" y="1633.21" text-anchor="end">0.2228</text>
<text x="135.3" y="1550.15" text-anchor="end">0.3228</text>
<text x="135.3" y="1467.09" text-anchor="end">0.4228</text>
<text x="135.3" y="1384.03" text-anchor="end">0.5228</text>
<text x="135.3" y="1300.97" text-anchor="end">0.6228</text>
<text x="135.3" y="1217.91" text-anchor="end">0.7228</text>
<text x="135.3" y="1134.85" text-anchor="end">0.8228</text>
<text x="135.3" y="1051.79" text-anchor="end">0.9228</text>
</g>
<g font-family="'Liberation Sans', Arial, Helvetica, sans-serif" font-size="28.35" fill="#000" stroke="#000" stroke-width="0.45">
<text x="527.75" y="1866.43" text-anchor="middle">Location error threshold</text>
<text transform="translate(38.8 1414.68) rotate(-90)" text-anchor="middle">Precision</text>
</g>
<text x="527.75" y="1019.73" text-anchor="middle" font-family="'Liberation Sans', Arial, Helvetica, sans-serif" font-size="33.75" font-weight="bold">Precision plots of OPE - Illumination Variation</text>
<rect x="574.53" y="1474.93" width="316.27" height="300.5" rx="5.7" fill="#fff" fill-opacity="0.8" stroke="#ccc" stroke-opacity="0.8" stroke-width="2.85"/>
<path d="M584.83 1495.43H639.33" fill="none" stroke="#ff0000" stroke-width="6.2" stroke-linecap="square"/>
<text x="662.13" y="1503.73" font-family="'Liberation Sans', Arial, Helvetica, sans-serif" font-size="28.6" stroke="#000" stroke-width="0.45">[0.866] Ours</text>
<path d="M584.83 1527.23H639.33" fill="none" stroke="#00ff00" stroke-width="6.2" stroke-dasharray="21.09 9.12" stroke-linecap="butt"/>
<text x="662.13" y="1535.53" font-family="'Liberation Sans', Arial, Helvetica, sans-serif" font-size="28.6" stroke="#000" stroke-width="0.45">[0.858] TrSiam</text>
<path d="M584.83 1559.03H639.33" fill="none" stroke="#ff00ff" stroke-width="6.2" stroke-dasharray="5.7 9.4" stroke-linecap="butt"/>
<text x="662.13" y="1567.33" font-family="'Liberation Sans', Arial, Helvetica, sans-serif" font-size="28.6" stroke="#000" stroke-width="0.45">[0.851] ATOM</text>
<path d="M584.83 1590.83H639.33" fill="none" stroke="#ffff00" stroke-width="6.2" stroke-linecap="square"/>
<text x="662.13" y="1599.13" font-family="'Liberation Sans', Arial, Helvetica, sans-serif" font-size="28.6" stroke="#000" stroke-width="0.45">[0.840] SiamPT</text>
<path d="M584.83 1622.63H639.33" fill="none" stroke="#00a2e8" stroke-width="6.2" stroke-dasharray="21.09 9.12" stroke-linecap="butt"/>
<text x="662.13" y="1630.93" font-family="'Liberation Sans', Arial, Helvetica, sans-serif" font-size="28.6" stroke="#000" stroke-width="0.45">[0.816] TransT</text>
<path d="M584.83 1654.43H639.33" fill="none" stroke="#808080" stroke-width="6.2" stroke-dasharray="5.7 9.4" stroke-linecap="butt"/>
<text x="662.13" y="1662.73" font-family="'Liberation Sans', Arial, Helvetica, sans-serif" font-size="28.6" stroke="#000" stroke-width="0.45">[0.815] SiamAttn</text>
<path d="M584.83 1686.23H639.33" fill="none" stroke="#0000ff" stroke-width="6.2" stroke-linecap="square"/>
<text x="662.13" y="1694.53" font-family="'Liberation Sans', Arial, Helvetica, sans-serif" font-size="28.6" stroke="#000" stroke-width="0.45">[0.811] TrDiMP</text>
<path d="M584.83 1718.03H639.33" fill="none" stroke="#00ffff" stroke-width="6.2" stroke-dasharray="21.09 9.12" stroke-linecap="butt"/>
<text x="662.13" y="1726.33" font-family="'Liberation Sans', Arial, Helvetica, sans-serif" font-size="28.6" stroke="#000" stroke-width="0.45">[0.766] SiamBAN</text>
<path d="M584.83 1749.83H639.33" fill="none" stroke="#880015" stroke-width="6.2" stroke-dasharray="5.7 9.4" stroke-linecap="butt"/>
<text x="662.13" y="1758.13" font-family="'Liberation Sans', Arial, Helvetica, sans-serif" font-size="28.6" stroke="#000" stroke-width="0.45">[0.710] ECO</text>
</g>
<g filter="url(#bl)">
<path d="M1292.4 1038.73V1790.63M1367.63 1038.73V1790.63M1442.86 1038.73V1790.63M1518.09 1038.73V1790.63M1593.32 1038.73V1790.63M1668.55 1038.73V1790.63M1743.78 1038.73V1790.63M1819.01 1038.73V1790.63M1894.24 1038.73V1790.63M1969.47 1038.73V1790.63M2044.7 1038.73V1790.63M1292.4 1790.63H2044.7M1292.4 1706.32H2044.7M1292.4 1622.01H2044.7M1292.4 1537.7H2044.7M1292.4 1453.39H2044.7M1292.4 1369.08H2044.7M1292.4 1284.77H2044.7M1292.4 1200.46H2044.7M1292.4 1116.15H2044.7" stroke="#b0b0b0" stroke-width="2.28" fill="none"/>
<path d="M1292.4,1060.59 1330.02,1062.02 1367.63,1067.84 1405.25,1071.3 1442.86,1074.16 1480.48,1077.03 1518.09,1080.82 1555.7,1085.12 1593.32,1090.86 1630.93,1098.11 1668.55,1109.57 1706.16,1126.86 1743.78,1157.12 1781.39,1194.64 1819.01,1243.63 1856.62,1312.76 1894.24,1411.57 1931.86,1523.96 1969.47,1642.08 2007.09,1755.89 2044.7,1790.46" fill="none" stroke="#ff0000" stroke-width="6.2" stroke-linejoin="round" stroke-linecap="square"/>
<path d="M1292.4,1069.27 1330.02,1070.71 1367.63,1072.14 1405.25,1073.57 1442.86,1075.93 1480.48,1079.39 1518.09,1085.12 1555.7,1090.86 1593.32,1096.67 1630.93,1103.84 1668.55,1114.55 1706.16,1125.42 1743.78,1151.39 1781.39,1185.96 1819.01,1234.94 1856.62,1307.03 1894.24,1466.04 1931.86,1575.64 1969.47,1702.1 2007.09,1773.77 2044.7,1790.46" fill="none" stroke="#00ff00" stroke-width="6.2" stroke-linejoin="round" stroke-dasharray="21.09 9.12" stroke-linecap="butt"/>
<path d="M1292.4,1090.86 1330.02,1092.29 1367.63,1094.31 1405.25,1095.75 1442.86,1098.11 1480.48,1100.38 1518.09,1103.84 1555.7,1106.71 1593.32,1111.09 1630.93,1118.26 1668.55,1128.37 1706.16,1138.41 1743.78,1170.11 1781.39,1209.06 1819.01,1258.04 1856.62,1327.18 1894.24,1437.46 1931.86,1544.11 1969.47,1668.04 2007.09,1758.76 2044.7,1790.46" fill="none" stroke="#ff00ff" stroke-width="6.2" stroke-linejoin="round" stroke-dasharray="5.7 9.4" stroke-linecap="butt"/>
<path d="M1292.4,1064.38 1330.02,1067.84 1367.63,1073.57 1405.25,1077.87 1442.86,1080.82 1480.48,1083.69 1518.09,1087.99 1555.7,1093.72 1593.32,1103.84 1630.93,1116.82 1668.55,1134.11 1706.16,1148.53 1743.78,1180.23 1781.39,1223.48 1819.01,1275.33 1856.62,1350.19 1894.24,1472.02 1931.86,1572.94 1969.47,1696.88 2007.09,1774.61 2044.7,1790.46" fill="none" stroke="#ffff00" stroke-width="6.2" stroke-linejoin="round" stroke-linecap="square"/>
<path d="M1292.4,1109.57 1330.02,1110.5 1367.63,1112.52 1405.25,1114.55 1442.86,1116.23 1480.48,1119.1 1518.09,1121.97 1555.7,1124.92 1593.32,1128.37 1630.93,1134.11 1668.55,1142.71 1706.16,1157.12 1743.78,1183.09 1781.39,1223.48 1819.01,1266.64 1856.62,1327.18 1894.24,1443.27 1931.86,1544.11 1969.47,1668.04 2007.09,1766.01 2044.7,1790.46" fill="none" stroke="#00a2e8" stroke-width="6.2" stroke-linejoin="round" stroke-dasharray="21.09 9.12" stroke-linecap="butt"/>
<path d="M1292.4,1109.57 1330.02,1110.5 1367.63,1111.6 1405.25,1113.37 1442.86,1116.23 1480.48,1120.28 1518.09,1124.92 1555.7,1129.81 1593.32,1135.54 1630.93,1141.27 1668.55,1149.96 1706.16,1160.08 1743.78,1185.96 1781.39,1226.34 1819.01,1269.51 1856.62,1332.91 1894.24,1446.14 1931.86,1549.84 1969.47,1676.64 2007.09,1768.88 2044.7,1790.46" fill="none" stroke="#808080" stroke-width="6.2" stroke-linejoin="round" stroke-dasharray="5.7 9.4" stroke-linecap="butt"/>
<path d="M1292.4,1106.71 1330.02,1109.57 1367.63,1116.82 1405.25,1121.12 1442.86,1123.99 1480.48,1128.37 1518.09,1134.11 1555.7,1140.43 1593.32,1146.16 1630.93,1152.82 1668.55,1165.81 1706.16,1177.36 1743.78,1203.24 1781.39,1240.76 1819.01,1286.79 1856.62,1353.15 1894.24,1418.82 1931.86,1535.42 1969.47,1691.06 2007.09,1779 2044.7,1790.46" fill="none" stroke="#0000ff" stroke-width="6.2" stroke-linejoin="round" stroke-linecap="square"/>
<path d="M1292.4,1139.84 1330.02,1144.23 1367.63,1147.93 1405.25,1151.98 1442.86,1156.62 1480.48,1162.35 1518.09,1168.68 1555.7,1174.41 1593.32,1180.23 1630.93,1188.83 1668.55,1203.24 1706.16,1214.79 1743.78,1243.63 1781.39,1283.93 1819.01,1330.04 1856.62,1399.26 1894.24,1480.37 1931.86,1570.08 1969.47,1699.74 2007.09,1771.74 2044.7,1790.46" fill="none" stroke="#00ffff" stroke-width="6.2" stroke-linejoin="round" stroke-dasharray="21.09 9.12" stroke-linecap="butt"/>
<path d="M1292.4,1157.12 1330.02,1158.56 1367.63,1164.38 1405.25,1170.11 1442.86,1180.23 1480.48,1194.64 1518.09,1211.93 1555.7,1234.94 1593.32,1263.78 1630.93,1298.34 1668.55,1341.59 1706.16,1389.31 1743.78,1437.46 1781.39,1483.57 1819.01,1541.24 1856.62,1595.96 1894.24,1644.94 1931.86,1693.93 1969.47,1740.04 2007.09,1774.61 2044.7,1790.46" fill="none" stroke="#880015" stroke-width="6.2" stroke-linejoin="round" stroke-dasharray="5.7 9.4" stroke-linecap="butt"/>
<rect x="1292.4" y="1038.73" width="752.3" height="751.9" fill="none" stroke="#000" stroke-width="2.28"/>
<path d="M1292.4 1790.63v9.97M1367.63 1790.63v9.97M1442.86 1790.63v9.97M1518.09 1790.63v9.97M1593.32 1790.63v9.97M1668.55 1790.63v9.97M1743.78 1790.63v9.97M1819.01 1790.63v9.97M1894.24 1790.63v9.97M1969.47 1790.63v9.97M2044.7 1790.63v9.97M1292.4 1790.63h-9.97M1292.4 1706.32h-9.97M1292.4 1622.01h-9.97M1292.4 1537.7h-9.97M1292.4 1453.39h-9.97M1292.4 1369.08h-9.97M1292.4 1284.77h-9.97M1292.4 1200.46h-9.97M1292.4 1116.15h-9.97" stroke="#000" stroke-width="2.28" fill="none"/>
<g font-family="'Liberation Serif', 'Times New Roman', serif" font-size="30" fill="#2a2a2a">
<text x="1292.4" y="1830.13" text-anchor="middle">0.0</text>
<text x="1367.63" y="1830.13" text-anchor="middle">0.1</text>
<text x="1442.86" y="1830.13" text-anchor="middle">0.2</text>
<text x="1518.09" y="1830.13" text-anchor="middle">0.3</text>
<text x="1593.32" y="1830.13" text-anchor="middle">0.4</text>
<text x="1668.55" y="1830.13" text-anchor="middle">0.5</text>
<text x="1743.78" y="1830.13" text-anchor="middle">0.6</text>
<text x="1819.01" y="1830.13" text-anchor="middle">0.7</text>
<text x="1894.24" y="1830.13" text-anchor="middle">0.8</text>
<text x="1969.47" y="1830.13" text-anchor="middle">0.9</text>
<text x="2044.7" y="1830.13" text-anchor="middle">1.0</text>
<text x="1274.1" y="1799.33" text-anchor="end">0.0</text>
<text x="1274.1" y="1715.02" text-anchor="end">0.1</text>
<text x="1274.1" y="1630.71" text-anchor="end">0.2</text>
<text x="1274.1" y="1546.4" text-anchor="end">0.3</text>
<text x="1274.1" y="1462.09" text-anchor="end">0.4</text>
<text x="1274.1" y="1377.78" text-anchor="end">0.5</text>
<text x="1274.1" y="1293.47" text-anchor="end">0.6</text>
<text x="1274.1" y="1209.16" text-anchor="end">0.7</text>
<text x="1274.1" y="1124.85" text-anchor="end">0.8</text>
</g>
<g font-family="'Liberation Sans', Arial, Helvetica, sans-serif" font-size="28.35" fill="#000" stroke="#000" stroke-width="0.45">
<text x="1666.55" y="1866.43" text-anchor="middle">Overlap threshold</text>
<text transform="translate(1220.1 1414.68) rotate(-90)" text-anchor="middle">Success rate</text>
</g>
<text x="1666.55" y="1019.73" text-anchor="middle" font-family="'Liberation Sans', Arial, Helvetica, sans-serif" font-size="33.75" font-weight="bold">Success plots of OPE - Illumination Variation</text>
<rect x="1307.5" y="1474.93" width="316.27" height="300.5" rx="5.7" fill="#fff" fill-opacity="0.8" stroke="#ccc" stroke-opacity="0.8" stroke-width="2.85"/>
<path d="M1317.8 1495.43H1372.3" fill="none" stroke="#ff0000" stroke-width="6.2" stroke-linecap="square"/>
<text x="1395.1" y="1503.73" font-family="'Liberation Sans', Arial, Helvetica, sans-serif" font-size="28.6" stroke="#000" stroke-width="0.45">[0.651] Ours</text>
<path d="M1317.8 1527.23H1372.3" fill="none" stroke="#00ff00" stroke-width="6.2" stroke-dasharray="21.09 9.12" stroke-linecap="butt"/>
<text x="1395.1" y="1535.53" font-family="'Liberation Sans', Arial, Helvetica, sans-serif" font-size="28.6" stroke="#000" stroke-width="0.45">[0.640] TrSiam</text>
<path d="M1317.8 1559.03H1372.3" fill="none" stroke="#ff00ff" stroke-width="6.2" stroke-dasharray="5.7 9.4" stroke-linecap="butt"/>
<text x="1395.1" y="1567.33" font-family="'Liberation Sans', Arial, Helvetica, sans-serif" font-size="28.6" stroke="#000" stroke-width="0.45">[0.630] SiamPT</text>
<path d="M1317.8 1590.83H1372.3" fill="none" stroke="#ffff00" stroke-width="6.2" stroke-linecap="square"/>
<text x="1395.1" y="1599.13" font-family="'Liberation Sans', Arial, Helvetica, sans-serif" font-size="28.6" stroke="#000" stroke-width="0.45">[0.624] ATOM</text>
<path d="M1317.8 1622.63H1372.3" fill="none" stroke="#00a2e8" stroke-width="6.2" stroke-dasharray="21.09 9.12" stroke-linecap="butt"/>
<text x="1395.1" y="1630.93" font-family="'Liberation Sans', Arial, Helvetica, sans-serif" font-size="28.6" stroke="#000" stroke-width="0.45">[0.617] TransT</text>
<path d="M1317.8 1654.43H1372.3" fill="none" stroke="#808080" stroke-width="6.2" stroke-dasharray="5.7 9.4" stroke-linecap="butt"/>
<text x="1395.1" y="1662.73" font-family="'Liberation Sans', Arial, Helvetica, sans-serif" font-size="28.6" stroke="#000" stroke-width="0.45">[0.606] TrDiMP</text>
<path d="M1317.8 1686.23H1372.3" fill="none" stroke="#0000ff" stroke-width="6.2" stroke-linecap="square"/>
<text x="1395.1" y="1694.53" font-family="'Liberation Sans', Arial, Helvetica, sans-serif" font-size="28.6" stroke="#000" stroke-width="0.45">[0.602] SiamAttn</text>
<path d="M1317.8 1718.03H1372.3" fill="none" stroke="#00ffff" stroke-width="6.2" stroke-dasharray="21.09 9.12" stroke-linecap="butt"/>
<text x="1395.1" y="1726.33" font-family="'Liberation Sans', Arial, Helvetica, sans-serif" font-size="28.6" stroke="#000" stroke-width="0.45">[0.565] SiamBAN</text>
<path d="M1317.8 1749.83H1372.3" fill="none" stroke="#880015" stroke-width="6.2" stroke-dasharray="5.7 9.4" stroke-linecap="butt"/>
<text x="1395.1" y="1758.13" font-family="'Liberation Sans', Arial, Helvetica, sans-serif" font-size="28.6" stroke="#000" stroke-width="0.45">[0.458] ECO</text>
</g>
<g filter="url(#bl)">
<path d="M153.6 2016.36V2768.26M228.83 2016.36V2768.26M304.06 2016.36V2768.26M379.29 2016.36V2768.26M454.52 2016.36V2768.26M529.75 2016.36V2768.26M604.98 2016.36V2768.26M680.21 2016.36V2768.26M755.44 2016.36V2768.26M830.67 2016.36V2768.26M905.9 2016.36V2768.26M153.6 2768.26H905.9M153.6 2678.58H905.9M153.6 2588.9H905.9M153.6 2499.22H905.9M153.6 2409.54H905.9M153.6 2319.86H905.9M153.6 2230.18H905.9M153.6 2140.5H905.9M153.6 2050.82H905.9" stroke="#b0b0b0" stroke-width="2.28" fill="none"/>
<path d="M153.6,2763.78 168.65,2503.7 183.69,2291.16 198.74,2186.24 213.78,2139.24 228.83,2115.57 243.88,2099.25 258.92,2092.07 273.97,2086.69 289.01,2082.93 304.06,2079.97 319.11,2077.72 334.15,2075.75 349.2,2073.78 364.24,2071.81 379.29,2070.1 394.34,2068.58 409.38,2067.14 424.43,2065.8 439.47,2064.54 454.52,2063.38 469.57,2062.3 484.61,2061.22 499.66,2060.33 514.7,2059.43 529.75,2058.62 544.8,2057.9 559.84,2057.28 574.89,2056.74 589.93,2056.11 604.98,2055.48 620.03,2054.77 635.07,2053.96 650.12,2053.15 665.16,2052.34 680.21,2051.54 695.26,2050.73 710.3,2049.92 725.35,2049.12 740.39,2048.31 755.44,2047.59 770.49,2046.87 785.53,2046.25 800.58,2045.62 815.62,2045.08 830.67,2044.45 845.72,2043.91 860.76,2043.29 875.81,2042.75 890.85,2042.3 905.9,2041.76" fill="none" stroke="#ff0000" stroke-width="6.2" stroke-linejoin="round" stroke-linecap="square"/>
<path d="M153.6,2763.78 168.65,2521.64 183.69,2315.38 198.74,2188.03 213.78,2148.3 228.83,2131.98 243.88,2117.45 258.92,2109.29 273.97,2103.82 289.01,2100.23 304.06,2097.45 319.11,2094.94 334.15,2092.88 349.2,2091.36 364.24,2090.01 379.29,2088.75 394.34,2087.5 409.38,2086.24 424.43,2085.08 439.47,2084 454.52,2083.1 469.57,2082.3 484.61,2081.58 499.66,2080.95 514.7,2080.32 529.75,2079.7 544.8,2079.16 559.84,2078.62 574.89,2078.08 589.93,2077.63 604.98,2077.01 620.03,2076.29 635.07,2075.57 650.12,2074.67 665.16,2073.87 680.21,2073.06 695.26,2072.25 710.3,2071.45 725.35,2070.64 740.39,2069.92 755.44,2069.2 770.49,2068.58 785.53,2068.04 800.58,2067.5 815.62,2066.96 830.67,2066.42 845.72,2065.89 860.76,2065.44 875.81,2064.99 890.85,2064.54 905.9,2064.09" fill="none" stroke="#00ff00" stroke-width="6.2" stroke-linejoin="round" stroke-dasharray="21.09 9.12" stroke-linecap="butt"/>
<path d="M153.6,2763.78 168.65,2557.51 183.69,2396.09 198.74,2288.47 213.78,2222.74 228.83,2184.62 243.88,2151.89 258.92,2131.98 273.97,2124.72 289.01,2119.69 304.06,2115.57 319.11,2111.26 334.15,2108.3 349.2,2107.14 364.24,2106.42 379.29,2105.52 394.34,2104 409.38,2102.03 424.43,2099.87 439.47,2097.99 454.52,2096.56 469.57,2095.57 484.61,2094.76 499.66,2094.05 514.7,2093.33 529.75,2092.7 544.8,2092.07 559.84,2091.53 574.89,2091 589.93,2090.46 604.98,2089.92 620.03,2089.47 635.07,2088.93 650.12,2088.49 665.16,2088.04 680.21,2087.59 695.26,2087.14 710.3,2086.69 725.35,2086.15 740.39,2085.71 755.44,2085.26 770.49,2084.81 785.53,2084.27 800.58,2083.73 815.62,2083.28 830.67,2082.84 845.72,2082.39 860.76,2082.03 875.81,2081.67 890.85,2081.31 905.9,2080.95" fill="none" stroke="#ff00ff" stroke-width="6.2" stroke-linejoin="round" stroke-dasharray="5.7 9.4" stroke-linecap="butt"/>
<path d="M153.6,2763.78 168.65,2512.67 183.69,2315.38 198.74,2213.59 213.78,2171.89 228.83,2151.89 243.88,2141.04 258.92,2134.67 273.97,2130.1 289.01,2127.5 304.06,2125.61 319.11,2124 334.15,2122.83 349.2,2122.21 364.24,2121.76 379.29,2121.22 394.34,2120.41 409.38,2119.43 424.43,2118.35 439.47,2117.27 454.52,2116.29 469.57,2115.48 484.61,2114.67 499.66,2113.87 514.7,2113.15 529.75,2112.25 544.8,2111.35 559.84,2110.37 574.89,2109.38 589.93,2108.3 604.98,2107.14 620.03,2105.7 635.07,2104.09 650.12,2102.3 665.16,2100.68 680.21,2099.34 695.26,2098.17 710.3,2097.18 725.35,2096.2 740.39,2095.39 755.44,2094.58 770.49,2093.87 785.53,2093.24 800.58,2092.7 815.62,2092.07 830.67,2091.45 845.72,2090.73 860.76,2090.01 875.81,2089.2 890.85,2088.4 905.9,2087.59" fill="none" stroke="#ffff00" stroke-width="6.2" stroke-linejoin="round" stroke-linecap="square"/>
<path d="M153.6,2763.78 168.65,2584.42 183.69,2431.96 198.74,2315.38 213.78,2240.85 228.83,2206.33 243.88,2188.21 258.92,2177.27 273.97,2171.89 289.01,2167.31 304.06,2162.83 319.11,2157.36 334.15,2151.89 349.2,2147.14 364.24,2142.74 379.29,2139.24 394.34,2136.64 409.38,2134.4 424.43,2132.43 439.47,2130.64 454.52,2128.84 469.57,2127.14 484.61,2125.43 499.66,2123.91 514.7,2122.47 529.75,2121.22 544.8,2120.05 559.84,2119.07 574.89,2118.17 589.93,2117.18 604.98,2116.2 620.03,2115.03 635.07,2113.69 650.12,2112.43 665.16,2111.26 680.21,2110.28 695.26,2109.56 710.3,2108.84 725.35,2108.3 740.39,2107.68 755.44,2107.14 770.49,2106.6 785.53,2106.06 800.58,2105.61 815.62,2105.08 830.67,2104.45 845.72,2103.73 860.76,2103.01 875.81,2102.21 890.85,2101.4 905.9,2100.5" fill="none" stroke="#00a2e8" stroke-width="6.2" stroke-linejoin="round" stroke-dasharray="21.09 9.12" stroke-linecap="butt"/>
<path d="M153.6,2763.78 168.65,2584.42 183.69,2431.96 198.74,2324.34 213.78,2252.6 228.83,2217.27 243.88,2195.47 258.92,2188.39 273.97,2183.55 289.01,2177.9 304.06,2173.68 319.11,2171.71 334.15,2170.09 349.2,2167.94 364.24,2165.52 379.29,2163.19 394.34,2160.86 409.38,2158.44 424.43,2156.19 439.47,2154.04 454.52,2152.16 469.57,2150.63 484.61,2149.29 499.66,2148.03 514.7,2146.87 529.75,2145.52 544.8,2144.09 559.84,2142.74 574.89,2141.22 589.93,2139.87 604.98,2138.44 620.03,2137.09 635.07,2135.66 650.12,2134.31 665.16,2132.97 680.21,2131.8 695.26,2130.64 710.3,2129.56 725.35,2128.57 740.39,2127.59 755.44,2126.69 770.49,2125.79 785.53,2124.99 800.58,2124.27 815.62,2123.55 830.67,2122.83 845.72,2122.21 860.76,2121.58 875.81,2121.04 890.85,2120.5 905.9,2120.05" fill="none" stroke="#808080" stroke-width="6.2" stroke-linejoin="round" stroke-dasharray="5.7 9.4" stroke-linecap="butt"/>
<path d="M153.6,2763.78 168.65,2620.56 183.69,2421.92 198.74,2324.34 213.78,2264.44 228.83,2222.74 243.88,2207.76 258.92,2196.1 273.97,2188.03 289.01,2183.1 304.06,2179.06 319.11,2175.21 334.15,2171.89 349.2,2169.11 364.24,2166.69 379.29,2164.71 394.34,2163.1 409.38,2161.75 424.43,2160.59 439.47,2159.51 454.52,2158.44 469.57,2157.45 484.61,2156.64 499.66,2155.84 514.7,2155.03 529.75,2154.13 544.8,2153.23 559.84,2152.34 574.89,2151.35 589.93,2150.36 604.98,2149.38 620.03,2148.3 635.07,2147.14 650.12,2145.88 665.16,2144.71 680.21,2143.55 695.26,2142.47 710.3,2141.4 725.35,2140.41 740.39,2139.42 755.44,2138.44 770.49,2137.45 785.53,2136.46 800.58,2135.57 815.62,2134.67 830.67,2133.77 845.72,2132.97 860.76,2132.07 875.81,2131.35 890.85,2130.55 905.9,2129.83" fill="none" stroke="#0000ff" stroke-width="6.2" stroke-linejoin="round" stroke-linecap="square"/>
<path d="M153.6,2763.78 168.65,2620.29 183.69,2449.9 198.74,2342.28 213.78,2277.17 228.83,2237.26 243.88,2217.27 258.92,2202.74 273.97,2193.68 289.01,2188.57 304.06,2184.62 319.11,2180.5 334.15,2177.36 349.2,2175.65 364.24,2174.31 379.29,2172.96 394.34,2171.26 409.38,2169.29 424.43,2167.4 439.47,2165.52 454.52,2163.82 469.57,2162.29 484.61,2160.95 499.66,2159.6 514.7,2158.44 529.75,2157.27 544.8,2156.28 559.84,2155.3 574.89,2154.4 589.93,2153.5 604.98,2152.61 620.03,2151.62 635.07,2150.63 650.12,2149.65 665.16,2148.57 680.21,2147.5 695.26,2146.33 710.3,2145.16 725.35,2144 740.39,2142.74 755.44,2141.58 770.49,2140.32 785.53,2138.98 800.58,2137.63 815.62,2136.55 830.67,2135.75 845.72,2135.21 860.76,2134.67 875.81,2134.22 890.85,2133.86 905.9,2133.77" fill="none" stroke="#00ffff" stroke-width="6.2" stroke-linejoin="round" stroke-dasharray="21.09 9.12" stroke-linecap="butt"/>
<path d="M153.6,2756.6 168.65,2651.86 183.69,2500.48 198.74,2405.95 213.78,2347.84 228.83,2320.31 243.88,2297.17 258.92,2278.07 273.97,2261.93 289.01,2250.9 304.06,2242.82 319.11,2235.2 334.15,2227.67 349.2,2221.66 364.24,2217.98 379.29,2214.93 394.34,2211.08 409.38,2206.86 424.43,2202.65 439.47,2198.88 454.52,2196.1 469.57,2194.22 484.61,2192.6 499.66,2191.26 514.7,2190 529.75,2188.57 544.8,2186.95 559.84,2185.34 574.89,2183.73 589.93,2182.2 604.98,2180.77 620.03,2179.51 635.07,2178.34 650.12,2177.18 665.16,2176.1 680.21,2174.94 695.26,2173.77 710.3,2172.61 725.35,2171.35 740.39,2170.18 755.44,2169.02 770.49,2167.85 785.53,2166.69 800.58,2165.52 815.62,2164.35 830.67,2163.19 845.72,2162.02 860.76,2160.86 875.81,2159.69 890.85,2158.44 905.9,2157.27" fill="none" stroke="#880015" stroke-width="6.2" stroke-linejoin="round" stroke-dasharray="5.7 9.4" stroke-linecap="butt"/>
<rect x="153.6" y="2016.36" width="752.3" height="751.9" fill="none" stroke="#000" stroke-width="2.28"/>
<path d="M153.6 2768.26v9.97M228.83 2768.26v9.97M304.06 2768.26v9.97M379.29 2768.26v9.97M454.52 2768.26v9.97M529.75 2768.26v9.97M604.98 2768.26v9.97M680.21 2768.26v9.97M755.44 2768.26v9.97M830.67 2768.26v9.97M905.9 2768.26v9.97M153.6 2768.26h-9.97M153.6 2678.58h-9.97M153.6 2588.9h-9.97M153.6 2499.22h-9.97M153.6 2409.54h-9.97M153.6 2319.86h-9.97M153.6 2230.18h-9.97M153.6 2140.5h-9.97M153.6 2050.82h-9.97" stroke="#000" stroke-width="2.28" fill="none"/>
<g font-family="'Liberation Serif', 'Times New Roman', serif" font-size="30" fill="#2a2a2a">
<text x="153.6" y="2807.76" text-anchor="middle">0</text>
<text x="228.83" y="2807.76" text-anchor="middle">5</text>
<text x="304.06" y="2807.76" text-anchor="middle">10</text>
<text x="379.29" y="2807.76" text-anchor="middle">15</text>
<text x="454.52" y="2807.76" text-anchor="middle">20</text>
<text x="529.75" y="2807.76" text-anchor="middle">25</text>
<text x="604.98" y="2807.76" text-anchor="middle">30</text>
<text x="680.21" y="2807.76" text-anchor="middle">35</text>
<text x="755.44" y="2807.76" text-anchor="middle">40</text>
<text x="830.67" y="2807.76" text-anchor="middle">45</text>
<text x="905.9" y="2807.76" text-anchor="middle">50</text>
<text x="135.3" y="2776.96" text-anchor="end">0.045</text>
<text x="135.3" y="2687.28" text-anchor="end">0.145</text>
<text x="135.3" y="2597.6" text-anchor="end">0.245</text>
<text x="135.3" y="2507.92" text-anchor="end">0.345</text>
<text x="135.3" y="2418.24" text-anchor="end">0.445</text>
<text x="135.3" y="2328.56" text-anchor="end">0.545</text>
<text x="135.3" y="2238.88" text-anchor="end">0.645</text>
<text x="135.3" y="2149.2" text-anchor="end">0.745</text>
<text x="135.3" y="2059.52" text-anchor="end">0.845</text>
</g>
<g font-family="'Liberation Sans', Arial, Helvetica, sans-serif" font-size="28.35" fill="#000" stroke="#000" stroke-width="0.45">
<text x="527.75" y="2844.06" text-anchor="middle">Location error threshold</text>
<text transform="translate(54.1 2392.31) rotate(-90)" text-anchor="middle">Precision</text>
</g>
<text x="527.75" y="1997.36" text-anchor="middle" font-family="'Liberation Sans', Arial, Helvetica, sans-serif" font-size="33.75" font-weight="bold">Precision plots of OPE - Low Resolution</text>
<rect x="574.53" y="2452.56" width="316.27" height="300.5" rx="5.7" fill="#fff" fill-opacity="0.8" stroke="#ccc" stroke-opacity="0.8" stroke-width="2.85"/>
<path d="M584.83 2473.06H639.33" fill="none" stroke="#ff0000" stroke-width="6.2" stroke-linecap="square"/>
<text x="662.13" y="2481.36" font-family="'Liberation Sans', Arial, Helvetica, sans-serif" font-size="28.6" stroke="#000" stroke-width="0.45">[0.831] Ours</text>
<path d="M584.83 2504.86H639.33" fill="none" stroke="#00ff00" stroke-width="6.2" stroke-dasharray="21.09 9.12" stroke-linecap="butt"/>
<text x="662.13" y="2513.16" font-family="'Liberation Sans', Arial, Helvetica, sans-serif" font-size="28.6" stroke="#000" stroke-width="0.45">[0.809] SiamPT</text>
<path d="M584.83 2536.66H639.33" fill="none" stroke="#ff00ff" stroke-width="6.2" stroke-dasharray="5.7 9.4" stroke-linecap="butt"/>
<text x="662.13" y="2544.96" font-family="'Liberation Sans', Arial, Helvetica, sans-serif" font-size="28.6" stroke="#000" stroke-width="0.45">[0.794] TrDiMP</text>
<path d="M584.83 2568.46H639.33" fill="none" stroke="#ffff00" stroke-width="6.2" stroke-linecap="square"/>
<text x="662.13" y="2576.76" font-family="'Liberation Sans', Arial, Helvetica, sans-serif" font-size="28.6" stroke="#000" stroke-width="0.45">[0.772] TransT</text>
<path d="M584.83 2600.26H639.33" fill="none" stroke="#00a2e8" stroke-width="6.2" stroke-dasharray="21.09 9.12" stroke-linecap="butt"/>
<text x="662.13" y="2608.56" font-family="'Liberation Sans', Arial, Helvetica, sans-serif" font-size="28.6" stroke="#000" stroke-width="0.45">[0.758] ATOM</text>
<path d="M584.83 2632.06H639.33" fill="none" stroke="#808080" stroke-width="6.2" stroke-dasharray="5.7 9.4" stroke-linecap="butt"/>
<text x="662.13" y="2640.36" font-family="'Liberation Sans', Arial, Helvetica, sans-serif" font-size="28.6" stroke="#000" stroke-width="0.45">[0.732] SiamAttn</text>
<path d="M584.83 2663.86H639.33" fill="none" stroke="#0000ff" stroke-width="6.2" stroke-linecap="square"/>
<text x="662.13" y="2672.16" font-family="'Liberation Sans', Arial, Helvetica, sans-serif" font-size="28.6" stroke="#000" stroke-width="0.45">[0.725] TrSiam</text>
<path d="M584.83 2695.66H639.33" fill="none" stroke="#00ffff" stroke-width="6.2" stroke-dasharray="21.09 9.12" stroke-linecap="butt"/>
<text x="662.13" y="2703.96" font-family="'Liberation Sans', Arial, Helvetica, sans-serif" font-size="28.6" stroke="#000" stroke-width="0.45">[0.719] SiamBAN</text>
<path d="M584.83 2727.46H639.33" fill="none" stroke="#880015" stroke-width="6.2" stroke-dasharray="5.7 9.4" stroke-linecap="butt"/>
<text x="662.13" y="2735.76" font-family="'Liberation Sans', Arial, Helvetica, sans-serif" font-size="28.6" stroke="#000" stroke-width="0.45">[0.683] ECO</text>
</g>
<g filter="url(#bl)">
<path d="M1292.4 2016.36V2768.26M1367.63 2016.36V2768.26M1442.86 2016.36V2768.26M1518.09 2016.36V2768.26M1593.32 2016.36V2768.26M1668.55 2016.36V2768.26M1743.78 2016.36V2768.26M1819.01 2016.36V2768.26M1894.24 2016.36V2768.26M1969.47 2016.36V2768.26M2044.7 2016.36V2768.26M1292.4 2768.26H2044.7M1292.4 2676.86H2044.7M1292.4 2585.46H2044.7M1292.4 2494.06H2044.7M1292.4 2402.66H2044.7M1292.4 2311.26H2044.7M1292.4 2219.86H2044.7M1292.4 2128.46H2044.7M1292.4 2037.06H2044.7" stroke="#b0b0b0" stroke-width="2.28" fill="none"/>
<path d="M1292.4,2042.73 1330.02,2044.19 1367.63,2046.47 1405.25,2048.48 1442.86,2051.32 1480.48,2054.24 1518.09,2058.54 1555.7,2064.3 1593.32,2072.98 1630.93,2083.67 1668.55,2098.66 1706.16,2116.21 1743.78,2147.93 1781.39,2192.62 1819.01,2250.3 1856.62,2328.08 1894.24,2423.77 1931.86,2530.44 1969.47,2668.82 2007.09,2749.52 2044.7,2767.99" fill="none" stroke="#ff0000" stroke-width="6.2" stroke-linejoin="round" stroke-linecap="square"/>
<path d="M1292.4,2062.93 1330.02,2064.3 1367.63,2067.22 1405.25,2070.06 1442.86,2073.8 1480.48,2077.28 1518.09,2080.75 1555.7,2085.96 1593.32,2093.18 1630.93,2106.16 1668.55,2115.85 1706.16,2132.12 1743.78,2160.91 1781.39,2201.31 1819.01,2253.13 1856.62,2325.24 1894.24,2423.77 1931.86,2530.44 1969.47,2668.82 2007.09,2750.99 2044.7,2767.99" fill="none" stroke="#00ff00" stroke-width="6.2" stroke-linejoin="round" stroke-dasharray="21.09 9.12" stroke-linecap="butt"/>
<path d="M1292.4,2098.94 1330.02,2099.76 1367.63,2101.77 1405.25,2103.23 1442.86,2104.7 1480.48,2107.62 1518.09,2111.92 1555.7,2116.21 1593.32,2121.97 1630.93,2132.12 1668.55,2147.65 1706.16,2163.83 1743.78,2192.62 1781.39,2232.93 1819.01,2287.77 1856.62,2354.04 1894.24,2446.81 1931.86,2541.95 1969.47,2671.74 2007.09,2752.45 2044.7,2767.99" fill="none" stroke="#ff00ff" stroke-width="6.2" stroke-linejoin="round" stroke-dasharray="5.7 9.4" stroke-linecap="butt"/>
<path d="M1292.4,2075.9 1330.02,2077.28 1367.63,2079.65 1405.25,2082.49 1442.86,2085.96 1480.48,2091.17 1518.09,2096.01 1555.7,2101.77 1593.32,2111.92 1630.93,2127.73 1668.55,2146.19 1706.16,2169.59 1743.78,2204.14 1781.39,2253.13 1819.01,2316.56 1856.62,2394.98 1894.24,2495.89 1931.86,2582.35 1969.47,2697.61 2007.09,2758.21 2044.7,2767.99" fill="none" stroke="#ffff00" stroke-width="6.2" stroke-linejoin="round" stroke-linecap="square"/>
<path d="M1292.4,2094.64 1330.02,2104.7 1367.63,2111.92 1405.25,2116.21 1442.86,2121.97 1480.48,2130.65 1518.09,2140.71 1555.7,2155.15 1593.32,2169.59 1630.93,2183.94 1668.55,2206.15 1706.16,2228.09 1743.78,2270.5 1781.39,2313.73 1819.01,2375.24 1856.62,2438.21 1894.24,2533.36 1931.86,2634.27 1969.47,2712.05 2007.09,2762.5 2044.7,2767.99" fill="none" stroke="#00a2e8" stroke-width="6.2" stroke-linejoin="round" stroke-dasharray="21.09 9.12" stroke-linecap="butt"/>
<path d="M1292.4,2137.87 1330.02,2139.25 1367.63,2141.35 1405.25,2143.63 1442.86,2146.47 1480.48,2150.85 1518.09,2157.98 1555.7,2165.2 1593.32,2173.89 1630.93,2186.86 1668.55,2203.86 1706.16,2222.6 1743.78,2250.3 1781.39,2293.53 1819.01,2345.44 1856.62,2435.29 1894.24,2530.44 1931.86,2631.34 1969.47,2709.22 2007.09,2761.68 2044.7,2767.99" fill="none" stroke="#808080" stroke-width="6.2" stroke-linejoin="round" stroke-dasharray="5.7 9.4" stroke-linecap="butt"/>
<path d="M1292.4,2121.97 1330.02,2127.73 1367.63,2134.95 1405.25,2140.71 1442.86,2146.47 1480.48,2152.22 1518.09,2160.91 1555.7,2170.96 1593.32,2181.11 1630.93,2194.09 1668.55,2208.16 1706.16,2230.1 1743.78,2261.81 1781.39,2305.04 1819.01,2356.96 1856.62,2423.77 1894.24,2510.24 1931.86,2611.14 1969.47,2709.22 2007.09,2761.04 2044.7,2767.99" fill="none" stroke="#0000ff" stroke-width="6.2" stroke-linejoin="round" stroke-linecap="square"/>
<path d="M1292.4,2143.63 1330.02,2146.47 1367.63,2149.94 1405.25,2153.69 1442.86,2157.98 1480.48,2163.83 1518.09,2170.96 1555.7,2181.11 1593.32,2189.7 1630.93,2204.14 1668.55,2222.6 1706.16,2247.37 1743.78,2284.85 1781.39,2328.08 1819.01,2388.95 1856.62,2446.81 1894.24,2541.95 1931.86,2640.03 1969.47,2717.81 2007.09,2763.96 2044.7,2767.99" fill="none" stroke="#00ffff" stroke-width="6.2" stroke-linejoin="round" stroke-dasharray="21.09 9.12" stroke-linecap="butt"/>
<path d="M1292.4,2159.44 1330.02,2162.37 1367.63,2168.13 1405.25,2175.35 1442.86,2186.86 1480.48,2201.31 1518.09,2218.58 1555.7,2247.37 1593.32,2276.25 1630.93,2305.04 1668.55,2338.22 1706.16,2382.55 1743.78,2436.75 1781.39,2488.67 1819.01,2540.49 1856.62,2590.94 1894.24,2661.6 1931.86,2710.59 1969.47,2742.3 2007.09,2759.67 2044.7,2767.99" fill="none" stroke="#880015" stroke-width="6.2" stroke-linejoin="round" stroke-dasharray="5.7 9.4" stroke-linecap="butt"/>
<rect x="1292.4" y="2016.36" width="752.3" height="751.9" fill="none" stroke="#000" stroke-width="2.28"/>
<path d="M1292.4 2768.26v9.97M1367.63 2768.26v9.97M1442.86 2768.26v9.97M1518.09 2768.26v9.97M1593.32 2768.26v9.97M1668.55 2768.26v9.97M1743.78 2768.26v9.97M1819.01 2768.26v9.97M1894.24 2768.26v9.97M1969.47 2768.26v9.97M2044.7 2768.26v9.97M1292.4 2768.26h-9.97M1292.4 2676.86h-9.97M1292.4 2585.46h-9.97M1292.4 2494.06h-9.97M1292.4 2402.66h-9.97M1292.4 2311.26h-9.97M1292.4 2219.86h-9.97M1292.4 2128.46h-9.97M1292.4 2037.06h-9.97" stroke="#000" stroke-width="2.28" fill="none"/>
<g font-family="'Liberation Serif', 'Times New Roman', serif" font-size="30" fill="#2a2a2a">
<text x="1292.4" y="2807.76" text-anchor="middle">0.0</text>
<text x="1367.63" y="2807.76" text-anchor="middle">0.1</text>
<text x="1442.86" y="2807.76" text-anchor="middle">0.2</text>
<text x="1518.09" y="2807.76" text-anchor="middle">0.3</text>
<text x="1593.32" y="2807.76" text-anchor="middle">0.4</text>
<text x="1668.55" y="2807.76" text-anchor="middle">0.5</text>
<text x="1743.78" y="2807.76" text-anchor="middle">0.6</text>
<text x="1819.01" y="2807.76" text-anchor="middle">0.7</text>
<text x="1894.24" y="2807.76" text-anchor="middle">0.8</text>
<text x="1969.47" y="2807.76" text-anchor="middle">0.9</text>
<text x="2044.7" y="2807.76" text-anchor="middle">1.0</text>
<text x="1274.1" y="2776.96" text-anchor="end">0.0</text>
<text x="1274.1" y="2685.56" text-anchor="end">0.1</text>
<text x="1274.1" y="2594.16" text-anchor="end">0.2</text>
<text x="1274.1" y="2502.76" text-anchor="end">0.3</text>
<text x="1274.1" y="2411.36" text-anchor="end">0.4</text>
<text x="1274.1" y="2319.96" text-anchor="end">0.5</text>
<text x="1274.1" y="2228.56" text-anchor="end">0.6</text>
<text x="1274.1" y="2137.16" text-anchor="end">0.7</text>
<text x="1274.1" y="2045.76" text-anchor="end">0.8</text>
</g>
<g font-family="'Liberation Sans', Arial, Helvetica, sans-serif" font-size="28.35" fill="#000" stroke="#000" stroke-width="0.45">
<text x="1666.55" y="2844.06" text-anchor="middle">Overlap threshold</text>
<text transform="translate(1220.1 2392.31) rotate(-90)" text-anchor="middle">Success rate</text>
</g>
<text x="1666.55" y="1997.36" text-anchor="middle" font-family="'Liberation Sans', Arial, Helvetica, sans-serif" font-size="33.75" font-weight="bold">Success plots of OPE - Low Resolution</text>
<rect x="1307.5" y="2452.56" width="316.27" height="300.5" rx="5.7" fill="#fff" fill-opacity="0.8" stroke="#ccc" stroke-opacity="0.8" stroke-width="2.85"/>
<path d="M1317.8 2473.06H1372.3" fill="none" stroke="#ff0000" stroke-width="6.2" stroke-linecap="square"/>
<text x="1395.1" y="2481.36" font-family="'Liberation Sans', Arial, Helvetica, sans-serif" font-size="28.6" stroke="#000" stroke-width="0.45">[0.583] Ours</text>
<path d="M1317.8 2504.86H1372.3" fill="none" stroke="#00ff00" stroke-width="6.2" stroke-dasharray="21.09 9.12" stroke-linecap="butt"/>
<text x="1395.1" y="2513.16" font-family="'Liberation Sans', Arial, Helvetica, sans-serif" font-size="28.6" stroke="#000" stroke-width="0.45">[0.569] SiamPT</text>
<path d="M1317.8 2536.66H1372.3" fill="none" stroke="#ff00ff" stroke-width="6.2" stroke-dasharray="5.7 9.4" stroke-linecap="butt"/>
<text x="1395.1" y="2544.96" font-family="'Liberation Sans', Arial, Helvetica, sans-serif" font-size="28.6" stroke="#000" stroke-width="0.45">[0.542] TransT</text>
<path d="M1317.8 2568.46H1372.3" fill="none" stroke="#ffff00" stroke-width="6.2" stroke-linecap="square"/>
<text x="1395.1" y="2576.76" font-family="'Liberation Sans', Arial, Helvetica, sans-serif" font-size="28.6" stroke="#000" stroke-width="0.45">[0.539] TrDiMP</text>
<path d="M1317.8 2600.26H1372.3" fill="none" stroke="#00a2e8" stroke-width="6.2" stroke-dasharray="21.09 9.12" stroke-linecap="butt"/>
<text x="1395.1" y="2608.56" font-family="'Liberation Sans', Arial, Helvetica, sans-serif" font-size="28.6" stroke="#000" stroke-width="0.45">[0.493] ATOM</text>
<path d="M1317.8 2632.06H1372.3" fill="none" stroke="#808080" stroke-width="6.2" stroke-dasharray="5.7 9.4" stroke-linecap="butt"/>
<text x="1395.1" y="2640.36" font-family="'Liberation Sans', Arial, Helvetica, sans-serif" font-size="28.6" stroke="#000" stroke-width="0.45">[0.492] TrSiam</text>
<path d="M1317.8 2663.86H1372.3" fill="none" stroke="#0000ff" stroke-width="6.2" stroke-linecap="square"/>
<text x="1395.1" y="2672.16" font-family="'Liberation Sans', Arial, Helvetica, sans-serif" font-size="28.6" stroke="#000" stroke-width="0.45">[0.491] SiamAttn</text>
<path d="M1317.8 2695.66H1372.3" fill="none" stroke="#00ffff" stroke-width="6.2" stroke-dasharray="21.09 9.12" stroke-linecap="butt"/>
<text x="1395.1" y="2703.96" font-family="'Liberation Sans', Arial, Helvetica, sans-serif" font-size="28.6" stroke="#000" stroke-width="0.45">[0.472] SiamBAN</text>
<path d="M1317.8 2727.46H1372.3" fill="none" stroke="#880015" stroke-width="6.2" stroke-dasharray="5.7 9.4" stroke-linecap="butt"/>
<text x="1395.1" y="2735.76" font-family="'Liberation Sans', Arial, Helvetica, sans-serif" font-size="28.6" stroke="#000" stroke-width="0.45">[0.396] ECO</text>
</g>
<g filter="url(#bl)">
<path d="M153.6 2993.99V3745.89M228.83 2993.99V3745.89M304.06 2993.99V3745.89M379.29 2993.99V3745.89M454.52 2993.99V3745.89M529.75 2993.99V3745.89M604.98 2993.99V3745.89M680.21 2993.99V3745.89M755.44 2993.99V3745.89M830.67 2993.99V3745.89M905.9 2993.99V3745.89M153.6 3745.89H905.9M153.6 3666.22H905.9M153.6 3586.55H905.9M153.6 3506.88H905.9M153.6 3427.21H905.9M153.6 3347.54H905.9M153.6 3267.87H905.9M153.6 3188.2H905.9M153.6 3108.53H905.9M153.6 3028.86H905.9" stroke="#b0b0b0" stroke-width="2.28" fill="none"/>
<path d="M153.6,3736.65 168.65,3568.7 183.69,3386.9 198.74,3252.33 213.78,3187.4 228.83,3140.24 243.88,3112.12 258.92,3095.86 273.97,3084.07 289.01,3074.11 304.06,3064.15 319.11,3056.51 334.15,3050.53 349.2,3045.99 364.24,3042.16 379.29,3039.14 394.34,3036.75 409.38,3034.76 424.43,3033 439.47,3031.41 454.52,3029.98 469.57,3028.62 484.61,3027.35 499.66,3026.15 514.7,3025.12 529.75,3024.24 544.8,3023.44 559.84,3022.81 574.89,3022.17 589.93,3021.61 604.98,3021.13 620.03,3020.65 635.07,3020.26 650.12,3019.86 665.16,3019.54 680.21,3019.14 695.26,3018.74 710.3,3018.26 725.35,3017.87 740.39,3017.47 755.44,3017.23 770.49,3016.99 785.53,3016.83 800.58,3016.67 815.62,3016.51 830.67,3016.43 845.72,3016.35 860.76,3016.19 875.81,3016.11 890.85,3016.11 905.9,3016.03" fill="none" stroke="#ff0000" stroke-width="6.2" stroke-linejoin="round" stroke-linecap="square"/>
<path d="M153.6,3736.65 168.65,3577.95 183.69,3408.17 198.74,3263.89 213.78,3199.11 228.83,3164.62 243.88,3126.62 258.92,3106.7 273.97,3092.2 289.01,3082.24 304.06,3074.11 319.11,3067.66 334.15,3062.32 349.2,3057.78 364.24,3053.8 379.29,3050.53 394.34,3047.98 409.38,3045.83 424.43,3043.84 439.47,3042.09 454.52,3040.33 469.57,3038.58 484.61,3036.91 499.66,3035.39 514.7,3033.96 529.75,3032.76 544.8,3031.81 559.84,3030.93 574.89,3030.13 589.93,3029.5 604.98,3028.86 620.03,3028.38 635.07,3027.98 650.12,3027.59 665.16,3027.27 680.21,3026.95 695.26,3026.63 710.3,3026.39 725.35,3026.15 740.39,3025.99 755.44,3025.75 770.49,3025.59 785.53,3025.35 800.58,3025.2 815.62,3025.04 830.67,3025.04 845.72,3025.04 860.76,3025.04 875.81,3025.04 890.85,3025.04 905.9,3025.04" fill="none" stroke="#00ff00" stroke-width="6.2" stroke-linejoin="round" stroke-dasharray="21.09 9.12" stroke-linecap="butt"/>
<path d="M153.6,3740.63 168.65,3626.23 183.69,3483.54 198.74,3338.46 213.78,3268.83 228.83,3218.95 243.88,3180.95 258.92,3155.61 273.97,3132.99 289.01,3117.53 304.06,3106.7 319.11,3096.42 334.15,3087.66 349.2,3080.96 364.24,3075.23 379.29,3070.45 394.34,3066.3 409.38,3062.56 424.43,3059.13 439.47,3056.27 454.52,3053.88 469.57,3051.96 484.61,3050.37 499.66,3048.94 514.7,3047.66 529.75,3046.47 544.8,3045.27 559.84,3044.16 574.89,3043.12 589.93,3042.16 604.98,3041.37 620.03,3040.73 635.07,3040.09 650.12,3039.62 665.16,3039.14 680.21,3038.66 695.26,3038.18 710.3,3037.78 725.35,3037.46 740.39,3037.07 755.44,3036.67 770.49,3036.27 785.53,3035.95 800.58,3035.55 815.62,3035.15 830.67,3034.76 845.72,3034.36 860.76,3033.96 875.81,3033.56 890.85,3033.16 905.9,3032.76" fill="none" stroke="#ff00ff" stroke-width="6.2" stroke-linejoin="round" stroke-dasharray="5.7 9.4" stroke-linecap="butt"/>
<path d="M153.6,3736.65 168.65,3605.03 183.69,3427.05 198.74,3274.8 213.78,3216.56 228.83,3176.41 243.88,3145.66 258.92,3123.03 273.97,3108.53 289.01,3097.62 304.06,3088.61 319.11,3082.08 334.15,3076.82 349.2,3072.2 364.24,3068.06 379.29,3065.03 394.34,3062.96 409.38,3061.21 424.43,3059.69 439.47,3058.34 454.52,3057.06 469.57,3055.79 484.61,3054.51 499.66,3053.32 514.7,3052.28 529.75,3051.49 544.8,3050.93 559.84,3050.45 574.89,3049.97 589.93,3049.57 604.98,3049.18 620.03,3048.78 635.07,3048.38 650.12,3047.98 665.16,3047.58 680.21,3047.18 695.26,3046.87 710.3,3046.55 725.35,3046.23 740.39,3045.91 755.44,3045.67 770.49,3045.43 785.53,3045.11 800.58,3044.87 815.62,3044.71 830.67,3044.48 845.72,3044.32 860.76,3044.16 875.81,3044 890.85,3043.84 905.9,3043.68" fill="none" stroke="#ffff00" stroke-width="6.2" stroke-linejoin="round" stroke-linecap="square"/>
<path d="M153.6,3740.63 168.65,3626.23 183.69,3483.54 198.74,3338.46 213.78,3268.83 228.83,3222.62 243.88,3184.54 258.92,3159.2 273.97,3137.45 289.01,3123.03 304.06,3112.12 319.11,3102.4 334.15,3094.03 349.2,3087.02 364.24,3080.88 379.29,3075.94 394.34,3071.96 409.38,3068.54 424.43,3065.51 439.47,3062.72 454.52,3060.25 469.57,3057.86 484.61,3055.55 499.66,3053.48 514.7,3051.73 529.75,3050.37 544.8,3049.34 559.84,3048.46 574.89,3047.74 589.93,3047.1 604.98,3046.47 620.03,3045.75 635.07,3045.11 650.12,3044.48 665.16,3043.92 680.21,3043.36 695.26,3042.72 710.3,3042.09 725.35,3041.53 740.39,3040.97 755.44,3040.57 770.49,3040.25 785.53,3040.01 800.58,3039.77 815.62,3039.62 830.67,3039.46 845.72,3039.22 860.76,3039.06 875.81,3038.9 890.85,3038.74 905.9,3038.66" fill="none" stroke="#00a2e8" stroke-width="6.2" stroke-linejoin="round" stroke-dasharray="21.09 9.12" stroke-linecap="butt"/>
<path d="M153.6,3740.63 168.65,3626.23 183.69,3483.54 198.74,3338.38 213.78,3268.91 228.83,3229.87 243.88,3202.7 258.92,3174.58 273.97,3157.37 289.01,3142.95 304.06,3132.03 319.11,3122.47 334.15,3113.95 349.2,3106.06 364.24,3098.89 379.29,3093.15 394.34,3088.53 409.38,3084.47 424.43,3080.96 439.47,3077.94 454.52,3075.39 469.57,3073.24 484.61,3071.32 499.66,3069.73 514.7,3068.3 529.75,3067.1 544.8,3066.15 559.84,3065.35 574.89,3064.63 589.93,3063.91 604.98,3063.2 620.03,3062.4 635.07,3061.6 650.12,3060.81 665.16,3060.01 680.21,3059.29 695.26,3058.66 710.3,3057.94 725.35,3057.3 740.39,3056.74 755.44,3056.19 770.49,3055.71 785.53,3055.31 800.58,3054.99 815.62,3054.59 830.67,3054.27 845.72,3053.88 860.76,3053.48 875.81,3053.08 890.85,3052.68 905.9,3052.28" fill="none" stroke="#808080" stroke-width="6.2" stroke-linejoin="round" stroke-dasharray="5.7 9.4" stroke-linecap="butt"/>
<path d="M153.6,3740.63 168.65,3650.45 183.69,3511.98 198.74,3391.6 213.78,3311.77 228.83,3261.02 243.88,3226.2 258.92,3192.74 273.97,3170.11 289.01,3155.61 304.06,3144.7 319.11,3136.89 334.15,3130.28 349.2,3123.67 364.24,3117.45 379.29,3112.12 394.34,3107.49 409.38,3103.11 424.43,3099.21 439.47,3095.78 454.52,3092.91 469.57,3090.52 484.61,3088.37 499.66,3086.46 514.7,3084.87 529.75,3083.51 544.8,3082.32 559.84,3081.36 574.89,3080.49 589.93,3079.61 604.98,3078.81 620.03,3077.94 635.07,3077.14 650.12,3076.34 665.16,3075.63 680.21,3074.91 695.26,3074.19 710.3,3073.55 725.35,3073 740.39,3072.36 755.44,3071.8 770.49,3071.16 785.53,3070.61 800.58,3070.05 815.62,3069.57 830.67,3069.09 845.72,3068.62 860.76,3068.22 875.81,3067.82 890.85,3067.42 905.9,3067.1" fill="none" stroke="#0000ff" stroke-width="6.2" stroke-linejoin="round" stroke-linecap="square"/>
<path d="M153.6,3740.63 168.65,3626.23 183.69,3483.54 198.74,3338.46 213.78,3268.75 228.83,3218.95 243.88,3193.62 258.92,3173.7 273.97,3157.37 289.01,3146.53 304.06,3135.7 319.11,3129.64 334.15,3124.78 349.2,3119.68 364.24,3114.74 379.29,3110.28 394.34,3106.3 409.38,3102.4 424.43,3098.81 439.47,3095.62 454.52,3092.91 469.57,3090.6 484.61,3088.45 499.66,3086.54 514.7,3084.87 529.75,3083.51 544.8,3082.32 559.84,3081.36 574.89,3080.49 589.93,3079.61 604.98,3078.81 620.03,3077.94 635.07,3077.14 650.12,3076.34 665.16,3075.63 680.21,3074.91 695.26,3074.19 710.3,3073.55 725.35,3072.92 740.39,3072.28 755.44,3071.8 770.49,3071.24 785.53,3070.77 800.58,3070.29 815.62,3069.97 830.67,3069.81 845.72,3069.81 860.76,3069.81 875.81,3069.81 890.85,3069.81 905.9,3069.81" fill="none" stroke="#00ffff" stroke-width="6.2" stroke-linejoin="round" stroke-dasharray="21.09 9.12" stroke-linecap="butt"/>
<path d="M153.6,3740.63 168.65,3701.12 183.69,3596.83 198.74,3508.63 213.78,3445.93 228.83,3408.41 243.88,3371.12 258.92,3340.77 273.97,3317.82 289.01,3296.47 304.06,3273.53 319.11,3259.42 334.15,3249.63 349.2,3241.1 364.24,3233.45 379.29,3226.2 394.34,3219.03 409.38,3212.02 424.43,3205.41 439.47,3199.35 454.52,3194.1 469.57,3189.55 484.61,3185.49 499.66,3181.83 514.7,3178.4 529.75,3175.13 544.8,3172.03 559.84,3169 574.89,3166.13 589.93,3163.58 604.98,3161.43 620.03,3159.6 635.07,3158.01 650.12,3156.57 665.16,3155.22 680.21,3153.7 695.26,3152.11 710.3,3150.52 725.35,3148.84 740.39,3147.33 755.44,3145.9 770.49,3144.62 785.53,3143.43 800.58,3142.31 815.62,3141.12 830.67,3140 845.72,3138.8 860.76,3137.69 875.81,3136.49 890.85,3135.38 905.9,3134.18" fill="none" stroke="#880015" stroke-width="6.2" stroke-linejoin="round" stroke-dasharray="5.7 9.4" stroke-linecap="butt"/>
<rect x="153.6" y="2993.99" width="752.3" height="751.9" fill="none" stroke="#000" stroke-width="2.28"/>
<path d="M153.6 3745.89v9.97M228.83 3745.89v9.97M304.06 3745.89v9.97M379.29 3745.89v9.97M454.52 3745.89v9.97M529.75 3745.89v9.97M604.98 3745.89v9.97M680.21 3745.89v9.97M755.44 3745.89v9.97M830.67 3745.89v9.97M905.9 3745.89v9.97M153.6 3745.89h-9.97M153.6 3666.22h-9.97M153.6 3586.55h-9.97M153.6 3506.88h-9.97M153.6 3427.21h-9.97M153.6 3347.54h-9.97M153.6 3267.87h-9.97M153.6 3188.2h-9.97M153.6 3108.53h-9.97M153.6 3028.86h-9.97" stroke="#000" stroke-width="2.28" fill="none"/>
<g font-family="'Liberation Serif', 'Times New Roman', serif" font-size="30" fill="#2a2a2a">
<text x="153.6" y="3785.39" text-anchor="middle">0</text>
<text x="228.83" y="3785.39" text-anchor="middle">5</text>
<text x="304.06" y="3785.39" text-anchor="middle">10</text>
<text x="379.29" y="3785.39" text-anchor="middle">15</text>
<text x="454.52" y="3785.39" text-anchor="middle">20</text>
<text x="529.75" y="3785.39" text-anchor="middle">25</text>
<text x="604.98" y="3785.39" text-anchor="middle">30</text>
<text x="680.21" y="3785.39" text-anchor="middle">35</text>
<text x="755.44" y="3785.39" text-anchor="middle">40</text>
<text x="830.67" y="3785.39" text-anchor="middle">45</text>
<text x="905.9" y="3785.39" text-anchor="middle">50</text>
<text x="135.3" y="3754.59" text-anchor="end">0.0284</text>
<text x="135.3" y="3674.92" text-anchor="end">0.1284</text>
<text x="135.3" y="3595.25" text-anchor="end">0.2284</text>
<text x="135.3" y="3515.58" text-anchor="end">0.3284</text>
<text x="135.3" y="3435.91" text-anchor="end">0.4284</text>
<text x="135.3" y="3356.24" text-anchor="end">0.5284</text>
<text x="135.3" y="3276.57" text-anchor="end">0.6284</text>
<text x="135.3" y="3196.9" text-anchor="end">0.7284</text>
<text x="135.3" y="3117.23" text-anchor="end">0.8284</text>
<text x="135.3" y="3037.56" text-anchor="end">0.9284</text>
</g>
<g font-family="'Liberation Sans', Arial, Helvetica, sans-serif" font-size="28.35" fill="#000" stroke="#000" stroke-width="0.45">
<text x="527.75" y="3821.69" text-anchor="middle">Location error threshold</text>
<text transform="translate(38.8 3369.94) rotate(-90)" text-anchor="middle">Precision</text>
</g>
<text x="527.75" y="2974.99" text-anchor="middle" font-family="'Liberation Sans', Arial, Helvetica, sans-serif" font-size="33.75" font-weight="bold">Precision plots of OPE - Camera Motion</text>
<rect x="574.53" y="3430.19" width="316.27" height="300.5" rx="5.7" fill="#fff" fill-opacity="0.8" stroke="#ccc" stroke-opacity="0.8" stroke-width="2.85"/>
<path d="M584.83 3450.69H639.33" fill="none" stroke="#ff0000" stroke-width="6.2" stroke-linecap="square"/>
<text x="662.13" y="3458.99" font-family="'Liberation Sans', Arial, Helvetica, sans-serif" font-size="28.6" stroke="#000" stroke-width="0.45">[0.927] Ours</text>
<path d="M584.83 3482.49H639.33" fill="none" stroke="#00ff00" stroke-width="6.2" stroke-dasharray="21.09 9.12" stroke-linecap="butt"/>
<text x="662.13" y="3490.79" font-family="'Liberation Sans', Arial, Helvetica, sans-serif" font-size="28.6" stroke="#000" stroke-width="0.45">[0.914] SiamPT</text>
<path d="M584.83 3514.29H639.33" fill="none" stroke="#ff00ff" stroke-width="6.2" stroke-dasharray="5.7 9.4" stroke-linecap="butt"/>
<text x="662.13" y="3522.59" font-family="'Liberation Sans', Arial, Helvetica, sans-serif" font-size="28.6" stroke="#000" stroke-width="0.45">[0.897] TrSiam</text>
<path d="M584.83 3546.09H639.33" fill="none" stroke="#ffff00" stroke-width="6.2" stroke-linecap="square"/>
<text x="662.13" y="3554.39" font-family="'Liberation Sans', Arial, Helvetica, sans-serif" font-size="28.6" stroke="#000" stroke-width="0.45">[0.893] TransT</text>
<path d="M584.83 3577.89H639.33" fill="none" stroke="#00a2e8" stroke-width="6.2" stroke-dasharray="21.09 9.12" stroke-linecap="butt"/>
<text x="662.13" y="3586.19" font-family="'Liberation Sans', Arial, Helvetica, sans-serif" font-size="28.6" stroke="#000" stroke-width="0.45">[0.889] TrDiMP</text>
<path d="M584.83 3609.69H639.33" fill="none" stroke="#808080" stroke-width="6.2" stroke-dasharray="5.7 9.4" stroke-linecap="butt"/>
<text x="662.13" y="3617.99" font-family="'Liberation Sans', Arial, Helvetica, sans-serif" font-size="28.6" stroke="#000" stroke-width="0.45">[0.870] ATOM</text>
<path d="M584.83 3641.49H639.33" fill="none" stroke="#0000ff" stroke-width="6.2" stroke-linecap="square"/>
<text x="662.13" y="3649.79" font-family="'Liberation Sans', Arial, Helvetica, sans-serif" font-size="28.6" stroke="#000" stroke-width="0.45">[0.848] SiamBAN</text>
<path d="M584.83 3673.29H639.33" fill="none" stroke="#00ffff" stroke-width="6.2" stroke-dasharray="21.09 9.12" stroke-linecap="butt"/>
<text x="662.13" y="3681.59" font-family="'Liberation Sans', Arial, Helvetica, sans-serif" font-size="28.6" stroke="#000" stroke-width="0.45">[0.848] SiamAttn</text>
<path d="M584.83 3705.09H639.33" fill="none" stroke="#880015" stroke-width="6.2" stroke-dasharray="5.7 9.4" stroke-linecap="butt"/>
<text x="662.13" y="3713.39" font-family="'Liberation Sans', Arial, Helvetica, sans-serif" font-size="28.6" stroke="#000" stroke-width="0.45">[0.721] ECO</text>
</g>
<g filter="url(#bl)">
<path d="M1292.4 2993.99V3745.89M1367.63 2993.99V3745.89M1442.86 2993.99V3745.89M1518.09 2993.99V3745.89M1593.32 2993.99V3745.89M1668.55 2993.99V3745.89M1743.78 2993.99V3745.89M1819.01 2993.99V3745.89M1894.24 2993.99V3745.89M1969.47 2993.99V3745.89M2044.7 2993.99V3745.89M1292.4 3745.89H2044.7M1292.4 3665.96H2044.7M1292.4 3586.03H2044.7M1292.4 3506.1H2044.7M1292.4 3426.17H2044.7M1292.4 3346.24H2044.7M1292.4 3266.31H2044.7M1292.4 3186.38H2044.7M1292.4 3106.45H2044.7M1292.4 3026.52H2044.7" stroke="#b0b0b0" stroke-width="2.28" fill="none"/>
<path d="M1292.4,3016.45 1330.02,3017.01 1367.63,3017.65 1405.25,3018.21 1442.86,3019.33 1480.48,3020.53 1518.09,3022.2 1555.7,3025.08 1593.32,3028.6 1630.93,3034.35 1668.55,3045.86 1706.16,3060.25 1743.78,3083.35 1781.39,3115.08 1819.01,3156.81 1856.62,3217.39 1894.24,3290.85 1931.86,3406.11 1969.47,3532.96 2007.09,3700.09 2044.7,3745.89" fill="none" stroke="#ff0000" stroke-width="6.2" stroke-linejoin="round" stroke-linecap="square"/>
<path d="M1292.4,3023.64 1330.02,3024.28 1367.63,3024.84 1405.25,3025.72 1442.86,3027.16 1480.48,3028.6 1518.09,3030.6 1555.7,3033.47 1593.32,3037.23 1630.93,3042.99 1668.55,3053.06 1706.16,3064.57 1743.78,3089.11 1781.39,3120.84 1819.01,3164.08 1856.62,3224.59 1894.24,3299.48 1931.86,3414.98 1969.47,3570.44 2007.09,3707.2 2044.7,3745.89" fill="none" stroke="#00ff00" stroke-width="6.2" stroke-linejoin="round" stroke-dasharray="21.09 9.12" stroke-linecap="butt"/>
<path d="M1292.4,3045.3 1330.02,3045.86 1367.63,3046.42 1405.25,3047.06 1442.86,3047.62 1480.48,3048.74 1518.09,3050.18 1555.7,3053.06 1593.32,3057.37 1630.93,3064.57 1668.55,3073.28 1706.16,3080.47 1743.78,3097.74 1781.39,3129.47 1819.01,3172.71 1856.62,3233.22 1894.24,3305.24 1931.86,3418.18 1969.47,3574.04 2007.09,3709.92 2044.7,3745.89" fill="none" stroke="#ff00ff" stroke-width="6.2" stroke-linejoin="round" stroke-dasharray="5.7 9.4" stroke-linecap="butt"/>
<path d="M1292.4,3030.92 1330.02,3032.04 1367.63,3033.79 1405.25,3035.79 1442.86,3037.79 1480.48,3040.11 1518.09,3043.55 1555.7,3047.3 1593.32,3051.62 1630.93,3058.81 1668.55,3067.52 1706.16,3076.16 1743.78,3094.86 1781.39,3129.47 1819.01,3178.47 1856.62,3241.85 1894.24,3313.95 1931.86,3482.12 1969.47,3614.01 2007.09,3721.91 2044.7,3745.89" fill="none" stroke="#ffff00" stroke-width="6.2" stroke-linejoin="round" stroke-linecap="square"/>
<path d="M1292.4,3037.23 1330.02,3038.67 1367.63,3040.11 1405.25,3040.99 1442.86,3042.43 1480.48,3044.42 1518.09,3047.3 1555.7,3051.62 1593.32,3055.93 1630.93,3063.13 1668.55,3071.84 1706.16,3080.47 1743.78,3103.49 1781.39,3138.1 1819.01,3189.98 1856.62,3253.36 1894.24,3325.46 1931.86,3474.13 1969.47,3602.02 2007.09,3721.91 2044.7,3745.89" fill="none" stroke="#00a2e8" stroke-width="6.2" stroke-linejoin="round" stroke-dasharray="21.09 9.12" stroke-linecap="butt"/>
<path d="M1292.4,3037.23 1330.02,3038.67 1367.63,3040.11 1405.25,3042.43 1442.86,3045.86 1480.48,3051.62 1518.09,3061.69 1555.7,3069.52 1593.32,3077.6 1630.93,3084.79 1668.55,3093.42 1706.16,3107.81 1743.78,3129.47 1781.39,3164.08 1819.01,3213.08 1856.62,3270.71 1894.24,3345.6 1931.86,3496.51 1969.47,3646.78 2007.09,3729.9 2044.7,3745.89" fill="none" stroke="#808080" stroke-width="6.2" stroke-linejoin="round" stroke-dasharray="5.7 9.4" stroke-linecap="butt"/>
<path d="M1292.4,3069.52 1330.02,3069.52 1367.63,3070.4 1405.25,3071.2 1442.86,3072.4 1480.48,3075.28 1518.09,3079.03 1555.7,3082.79 1593.32,3086.79 1630.93,3093.42 1668.55,3103.49 1706.16,3115.08 1743.78,3138.1 1781.39,3172.71 1819.01,3218.83 1856.62,3273.58 1894.24,3354.31 1931.86,3474.13 1969.47,3601.62 2007.09,3722.79 2044.7,3745.89" fill="none" stroke="#0000ff" stroke-width="6.2" stroke-linejoin="round" stroke-linecap="square"/>
<path d="M1292.4,3064.57 1330.02,3067.52 1367.63,3070.4 1405.25,3072.4 1442.86,3075.52 1480.48,3079.91 1518.09,3084.79 1555.7,3089.11 1593.32,3094.3 1630.93,3103.49 1668.55,3120.84 1706.16,3132.35 1743.78,3158.24 1781.39,3192.85 1819.01,3241.85 1856.62,3299.48 1894.24,3374.46 1931.86,3482.12 1969.47,3618 2007.09,3725.91 2044.7,3745.89" fill="none" stroke="#00ffff" stroke-width="6.2" stroke-linejoin="round" stroke-dasharray="21.09 9.12" stroke-linecap="butt"/>
<path d="M1292.4,3100.62 1330.02,3101.17 1367.63,3106.45 1405.25,3110.45 1442.86,3129.63 1480.48,3146.41 1518.09,3166.4 1555.7,3191.18 1593.32,3214.36 1630.93,3237.54 1668.55,3267.91 1706.16,3300.68 1743.78,3341.44 1781.39,3389.64 1819.01,3446.47 1856.62,3515.61 1894.24,3584.83 1931.86,3648.22 1969.47,3695.77 2007.09,3731.82 2044.7,3745.89" fill="none" stroke="#880015" stroke-width="6.2" stroke-linejoin="round" stroke-dasharray="5.7 9.4" stroke-linecap="butt"/>
<rect x="1292.4" y="2993.99" width="752.3" height="751.9" fill="none" stroke="#000" stroke-width="2.28"/>
<path d="M1292.4 3745.89v9.97M1367.63 3745.89v9.97M1442.86 3745.89v9.97M1518.09 3745.89v9.97M1593.32 3745.89v9.97M1668.55 3745.89v9.97M1743.78 3745.89v9.97M1819.01 3745.89v9.97M1894.24 3745.89v9.97M1969.47 3745.89v9.97M2044.7 3745.89v9.97M1292.4 3745.89h-9.97M1292.4 3665.96h-9.97M1292.4 3586.03h-9.97M1292.4 3506.1h-9.97M1292.4 3426.17h-9.97M1292.4 3346.24h-9.97M1292.4 3266.31h-9.97M1292.4 3186.38h-9.97M1292.4 3106.45h-9.97M1292.4 3026.52h-9.97" stroke="#000" stroke-width="2.28" fill="none"/>
<g font-family="'Liberation Serif', 'Times New Roman', serif" font-size="30" fill="#2a2a2a">
<text x="1292.4" y="3785.39" text-anchor="middle">0.0</text>
<text x="1367.63" y="3785.39" text-anchor="middle">0.1</text>
<text x="1442.86" y="3785.39" text-anchor="middle">0.2</text>
<text x="1518.09" y="3785.39" text-anchor="middle">0.3</text>
<text x="1593.32" y="3785.39" text-anchor="middle">0.4</text>
<text x="1668.55" y="3785.39" text-anchor="middle">0.5</text>
<text x="1743.78" y="3785.39" text-anchor="middle">0.6</text>
<text x="1819.01" y="3785.39" text-anchor="middle">0.7</text>
<text x="1894.24" y="3785.39" text-anchor="middle">0.8</text>
<text x="1969.47" y="3785.39" text-anchor="middle">0.9</text>
<text x="2044.7" y="3785.39" text-anchor="middle">1.0</text>
<text x="1274.1" y="3754.59" text-anchor="end">0.0</text>
<text x="1274.1" y="3674.66" text-anchor="end">0.1</text>
<text x="1274.1" y="3594.73" text-anchor="end">0.2</text>
<text x="1274.1" y="3514.8" text-anchor="end">0.3</text>
<text x="1274.1" y="3434.87" text-anchor="end">0.4</text>
<text x="1274.1" y="3354.94" text-anchor="end">0.5</text>
<text x="1274.1" y="3275.01" text-anchor="end">0.6</text>
<text x="1274.1" y="3195.08" text-anchor="end">0.7</text>
<text x="1274.1" y="3115.15" text-anchor="end">0.8</text>
<text x="1274.1" y="3035.22" text-anchor="end">0.9</text>
</g>
<g font-family="'Liberation Sans', Arial, Helvetica, sans-serif" font-size="28.35" fill="#000" stroke="#000" stroke-width="0.45">
<text x="1666.55" y="3821.69" text-anchor="middle">Overlap threshold</text>
<text transform="translate(1220.1 3369.94) rotate(-90)" text-anchor="middle">Success rate</text>
</g>
<text x="1666.55" y="2974.99" text-anchor="middle" font-family="'Liberation Sans', Arial, Helvetica, sans-serif" font-size="33.75" font-weight="bold">Success plots of OPE - Camera Motion</text>
<rect x="1307.5" y="3430.19" width="316.27" height="300.5" rx="5.7" fill="#fff" fill-opacity="0.8" stroke="#ccc" stroke-opacity="0.8" stroke-width="2.85"/>
<path d="M1317.8 3450.69H1372.3" fill="none" stroke="#ff0000" stroke-width="6.2" stroke-linecap="square"/>
<text x="1395.1" y="3458.99" font-family="'Liberation Sans', Arial, Helvetica, sans-serif" font-size="28.6" stroke="#000" stroke-width="0.45">[0.718] Ours</text>
<path d="M1317.8 3482.49H1372.3" fill="none" stroke="#00ff00" stroke-width="6.2" stroke-dasharray="21.09 9.12" stroke-linecap="butt"/>
<text x="1395.1" y="3490.79" font-family="'Liberation Sans', Arial, Helvetica, sans-serif" font-size="28.6" stroke="#000" stroke-width="0.45">[0.708] SiamPT</text>
<path d="M1317.8 3514.29H1372.3" fill="none" stroke="#ff00ff" stroke-width="6.2" stroke-dasharray="5.7 9.4" stroke-linecap="butt"/>
<text x="1395.1" y="3522.59" font-family="'Liberation Sans', Arial, Helvetica, sans-serif" font-size="28.6" stroke="#000" stroke-width="0.45">[0.692] TransT</text>
<path d="M1317.8 3546.09H1372.3" fill="none" stroke="#ffff00" stroke-width="6.2" stroke-linecap="square"/>
<text x="1395.1" y="3554.39" font-family="'Liberation Sans', Arial, Helvetica, sans-serif" font-size="28.6" stroke="#000" stroke-width="0.45">[0.687] TrSiam</text>
<path d="M1317.8 3577.89H1372.3" fill="none" stroke="#00a2e8" stroke-width="6.2" stroke-dasharray="21.09 9.12" stroke-linecap="butt"/>
<text x="1395.1" y="3586.19" font-family="'Liberation Sans', Arial, Helvetica, sans-serif" font-size="28.6" stroke="#000" stroke-width="0.45">[0.682] TrDiMP</text>
<path d="M1317.8 3609.69H1372.3" fill="none" stroke="#808080" stroke-width="6.2" stroke-dasharray="5.7 9.4" stroke-linecap="butt"/>
<text x="1395.1" y="3617.99" font-family="'Liberation Sans', Arial, Helvetica, sans-serif" font-size="28.6" stroke="#000" stroke-width="0.45">[0.658] ATOM</text>
<path d="M1317.8 3641.49H1372.3" fill="none" stroke="#0000ff" stroke-width="6.2" stroke-linecap="square"/>
<text x="1395.1" y="3649.79" font-family="'Liberation Sans', Arial, Helvetica, sans-serif" font-size="28.6" stroke="#000" stroke-width="0.45">[0.654] SiamAttn</text>
<path d="M1317.8 3673.29H1372.3" fill="none" stroke="#00ffff" stroke-width="6.2" stroke-dasharray="21.09 9.12" stroke-linecap="butt"/>
<text x="1395.1" y="3681.59" font-family="'Liberation Sans', Arial, Helvetica, sans-serif" font-size="28.6" stroke="#000" stroke-width="0.45">[0.639] SiamBAN</text>
<path d="M1317.8 3705.09H1372.3" fill="none" stroke="#880015" stroke-width="6.2" stroke-dasharray="5.7 9.4" stroke-linecap="butt"/>
<text x="1395.1" y="3713.39" font-family="'Liberation Sans', Arial, Helvetica, sans-serif" font-size="28.6" stroke="#000" stroke-width="0.45">[0.506] ECO</text>
</g></svg>
</body></html>
